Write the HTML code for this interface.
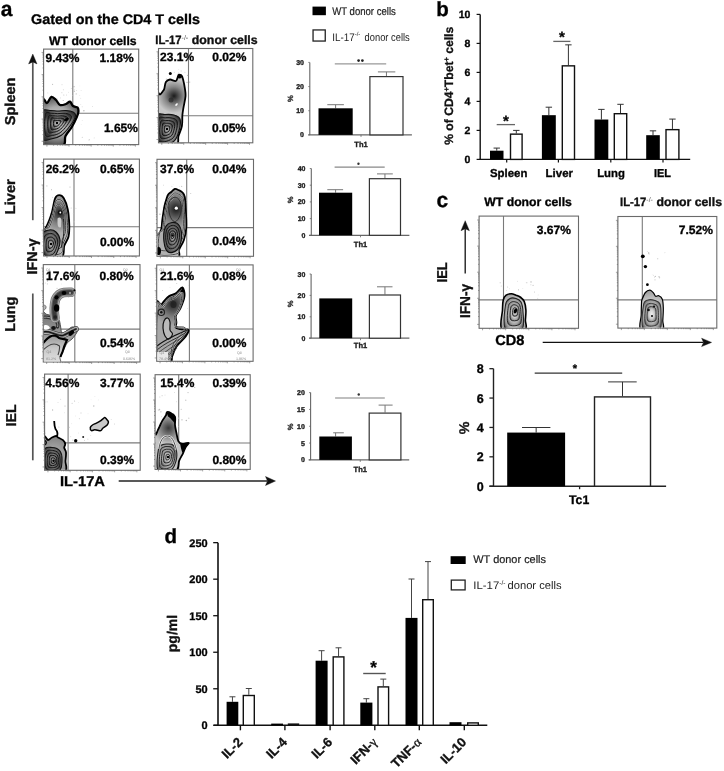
<!DOCTYPE html>
<html><head><meta charset="utf-8"><style>
html,body{margin:0;padding:0;background:#fff;}
svg{display:block;filter:blur(0.35px);}
text{font-family:"Liberation Sans", sans-serif;text-rendering:geometricPrecision;}
</style></head><body>
<svg width="724" height="771" viewBox="0 0 724 771">
<defs><radialGradient id="zebraL" cx="0.5" cy="0.5" r="0.55"><stop offset="0" stop-color="#eee"/><stop offset="0.55" stop-color="#ccc"/><stop offset="0.85" stop-color="#999"/><stop offset="1" stop-color="#666"/></radialGradient>
<radialGradient id="zebra" cx="0.5" cy="0.5" r="0.55"><stop offset="0" stop-color="#d0d0d0"/><stop offset="0.5" stop-color="#a8a8a8"/><stop offset="0.8" stop-color="#666"/><stop offset="1" stop-color="#333"/></radialGradient>
<clipPath id="cb0"><rect x="44.1" y="49.6" width="94.1" height="94.5"/></clipPath>
<clipPath id="cb1"><rect x="159" y="49" width="93.3" height="93.3"/></clipPath>
<clipPath id="cb2"><rect x="44.1" y="159.6" width="94.8" height="95.9"/></clipPath>
<clipPath id="cb3"><rect x="157.5" y="159.8" width="95.5" height="96"/></clipPath>
<clipPath id="cb4"><rect x="43.8" y="265.1" width="95.7" height="96.4"/></clipPath>
<clipPath id="cb5"><rect x="157.2" y="265.4" width="95.4" height="95.4"/></clipPath>
<clipPath id="cb6"><rect x="45.1" y="374.6" width="94.6" height="95.2"/></clipPath>
<clipPath id="cb7"><rect x="155.6" y="375.2" width="94.1" height="93.7"/></clipPath>
<radialGradient id="bg0" gradientUnits="userSpaceOnUse" cx="57" cy="121" r="26"><stop offset="0" stop-color="#ddd"/><stop offset="0.55" stop-color="#aaa"/><stop offset="1" stop-color="#444"/></radialGradient>
<radialGradient id="cg0" gradientUnits="userSpaceOnUse" cx="57" cy="123" r="21.21"><stop offset="0" stop-color="#e8e8e8"/><stop offset="1" stop-color="#777"/></radialGradient>
<radialGradient id="bg1" gradientUnits="userSpaceOnUse" cx="174" cy="96" r="17"><stop offset="0" stop-color="#1a1a1a"/><stop offset="0.55" stop-color="#888"/><stop offset="1" stop-color="#c8c8c8"/></radialGradient>
<radialGradient id="cg1" gradientUnits="userSpaceOnUse" cx="167" cy="129" r="18.6"><stop offset="0" stop-color="#e8e8e8"/><stop offset="1" stop-color="#777"/></radialGradient>
<radialGradient id="bg2" gradientUnits="userSpaceOnUse" cx="60" cy="213" r="20"><stop offset="0" stop-color="#222"/><stop offset="0.55" stop-color="#808080"/><stop offset="1" stop-color="#b0b0b0"/></radialGradient>
<radialGradient id="cg2" gradientUnits="userSpaceOnUse" cx="51" cy="244" r="16.64"><stop offset="0" stop-color="#e8e8e8"/><stop offset="1" stop-color="#777"/></radialGradient>
<radialGradient id="bg3" gradientUnits="userSpaceOnUse" cx="176" cy="209" r="22"><stop offset="0" stop-color="#1a1a1a"/><stop offset="0.55" stop-color="#7a7a7a"/><stop offset="1" stop-color="#b0b0b0"/></radialGradient>
<radialGradient id="cg3" gradientUnits="userSpaceOnUse" cx="172.5" cy="235.5" r="17.1"><stop offset="0" stop-color="#e8e8e8"/><stop offset="1" stop-color="#777"/></radialGradient>
<linearGradient id="lwt" gradientUnits="userSpaceOnUse" x1="0" y1="314" x2="0" y2="363"><stop offset="0" stop-color="#777"/><stop offset="0.45" stop-color="#9a9a9a"/><stop offset="0.7" stop-color="#c8c8c8"/><stop offset="1" stop-color="#e2e2e2"/></linearGradient>
<radialGradient id="bg4" gradientUnits="userSpaceOnUse" cx="173" cy="304" r="22"><stop offset="0" stop-color="#222"/><stop offset="0.55" stop-color="#7a7a7a"/><stop offset="1" stop-color="#a8a8a8"/></radialGradient>
<radialGradient id="bg5" gradientUnits="userSpaceOnUse" cx="54" cy="458" r="24.19"><stop offset="0" stop-color="#bbb"/><stop offset="0.55" stop-color="#9a9a9a"/><stop offset="1" stop-color="#7a7a7a"/></radialGradient>
<radialGradient id="cg5" gradientUnits="userSpaceOnUse" cx="53.5" cy="460.7" r="14.31"><stop offset="0" stop-color="#e8e8e8"/><stop offset="1" stop-color="#777"/></radialGradient>
<radialGradient id="bg6" gradientUnits="userSpaceOnUse" cx="168.5" cy="428" r="16"><stop offset="0" stop-color="#3a3a3a"/><stop offset="0.55" stop-color="#8a8a8a"/><stop offset="1" stop-color="#c4c4c4"/></radialGradient>
<radialGradient id="cg6" gradientUnits="userSpaceOnUse" cx="168" cy="457" r="16.4"><stop offset="0" stop-color="#e8e8e8"/><stop offset="1" stop-color="#777"/></radialGradient>
<clipPath id="cc0"><rect x="479.6" y="216.6" width="98.4" height="111.2"/></clipPath>
<clipPath id="cc1"><rect x="618.4" y="217" width="97.9" height="110.6"/></clipPath>
<radialGradient id="bg7" gradientUnits="userSpaceOnUse" cx="514.5" cy="312" r="21.74"><stop offset="0" stop-color="#eee"/><stop offset="0.55" stop-color="#ccc"/><stop offset="1" stop-color="#888"/></radialGradient>
<radialGradient id="cg7" gradientUnits="userSpaceOnUse" cx="515.4" cy="311" r="20.54"><stop offset="0" stop-color="#e8e8e8"/><stop offset="1" stop-color="#777"/></radialGradient>
<radialGradient id="bg8" gradientUnits="userSpaceOnUse" cx="651" cy="312" r="21.82"><stop offset="0" stop-color="#ddd"/><stop offset="0.55" stop-color="#c8c8c8"/><stop offset="1" stop-color="#999"/></radialGradient>
<radialGradient id="cg8" gradientUnits="userSpaceOnUse" cx="651.5" cy="313" r="17.89"><stop offset="0" stop-color="#e8e8e8"/><stop offset="1" stop-color="#777"/></radialGradient></defs>
<rect width="724" height="771" fill="#fff"/>
<text x="0.8" y="16.3" font-size="21" font-weight="bold" stroke="#111" stroke-width="0.35">a</text>
<text x="31" y="24.3" font-size="14" font-weight="bold" textLength="169" lengthAdjust="spacingAndGlyphs" stroke="#111" stroke-width="0.35">Gated on the CD4 T cells</text>
<text x="49" y="44.5" font-size="12.2" font-weight="bold" textLength="87.6" lengthAdjust="spacingAndGlyphs" stroke="#111" stroke-width="0.35">WT donor cells</text>
<text x="155.3" y="44.4" font-size="12.2" font-weight="bold" fill="#111" stroke="#111" stroke-width="0.35"><tspan textLength="26.3" lengthAdjust="spacingAndGlyphs">IL-17</tspan><tspan font-size="7" dy="-4.2" font-weight="normal" fill="#555" stroke-width="0">-/-</tspan><tspan dy="4.2" x="191.8" textLength="65.8" lengthAdjust="spacingAndGlyphs">donor cells</tspan></text>
<line x1="72.8" y1="49.1" x2="72.8" y2="144.6" stroke="#7a7a7a" stroke-width="1.1"/>
<line x1="43.6" y1="113.2" x2="138.7" y2="113.2" stroke="#7a7a7a" stroke-width="1.1"/>
<rect x="43.6" y="49.1" width="95.1" height="95.5" fill="none" stroke="#6a6a6a" stroke-width="1.1"/>
<path d="M43.6,141.27h-2M46.92,144.6v2M43.6,134.58h-1.1M53.58,144.6v1.1M43.6,130.67h-1.1M57.47,144.6v1.1M43.6,127.9h-1.1M60.23,144.6v1.1M43.6,125.74h-1.1M62.38,144.6v1.1M43.6,123.99h-1.1M64.13,144.6v1.1M43.6,122.5h-1.1M65.61,144.6v1.1M43.6,121.21h-1.1M66.89,144.6v1.1M43.6,120.08h-1.1M68.02,144.6v1.1M43.6,119.06h-2M69.03,144.6v2M43.6,112.37h-1.1M75.69,144.6v1.1M43.6,108.46h-1.1M79.59,144.6v1.1M43.6,105.69h-1.1M82.35,144.6v1.1M43.6,103.54h-1.1M84.49,144.6v1.1M43.6,101.78h-1.1M86.24,144.6v1.1M43.6,100.29h-1.1M87.72,144.6v1.1M43.6,99h-1.1M89.01,144.6v1.1M43.6,97.87h-1.1M90.14,144.6v1.1M43.6,96.85h-2M91.15,144.6v2M43.6,90.16h-1.1M97.81,144.6v1.1M43.6,86.25h-1.1M101.7,144.6v1.1M43.6,83.48h-1.1M104.47,144.6v1.1M43.6,81.33h-1.1M106.61,144.6v1.1M43.6,79.57h-1.1M108.36,144.6v1.1M43.6,78.08h-1.1M109.84,144.6v1.1M43.6,76.79h-1.1M111.12,144.6v1.1M43.6,75.66h-1.1M112.25,144.6v1.1M43.6,74.64h-2M113.27,144.6v2M43.6,67.96h-1.1M119.92,144.6v1.1M43.6,64.04h-1.1M123.82,144.6v1.1M43.6,61.27h-1.1M126.58,144.6v1.1M43.6,59.12h-1.1M128.72,144.6v1.1M43.6,57.36h-1.1M130.48,144.6v1.1M43.6,55.87h-1.1M131.96,144.6v1.1M43.6,54.58h-1.1M133.24,144.6v1.1M43.6,53.45h-1.1M134.37,144.6v1.1M43.6,52.43h-2M135.38,144.6v2" stroke="#666" stroke-width="0.6" fill="none"/>
<line x1="188.5" y1="48.5" x2="188.5" y2="142.8" stroke="#7a7a7a" stroke-width="1.1"/>
<line x1="158.5" y1="115.8" x2="252.8" y2="115.8" stroke="#7a7a7a" stroke-width="1.1"/>
<rect x="158.5" y="48.5" width="94.3" height="94.3" fill="none" stroke="#6a6a6a" stroke-width="1.1"/>
<path d="M158.5,139.51h-2M161.79,142.8v2M158.5,132.91h-1.1M168.39,142.8v1.1M158.5,129.05h-1.1M172.25,142.8v1.1M158.5,126.31h-1.1M174.99,142.8v1.1M158.5,124.18h-1.1M177.12,142.8v1.1M158.5,122.45h-1.1M178.85,142.8v1.1M158.5,120.98h-1.1M180.32,142.8v1.1M158.5,119.71h-1.1M181.59,142.8v1.1M158.5,118.58h-1.1M182.72,142.8v1.1M158.5,117.58h-2M183.72,142.8v2M158.5,110.98h-1.1M190.32,142.8v1.1M158.5,107.12h-1.1M194.18,142.8v1.1M158.5,104.38h-1.1M196.92,142.8v1.1M158.5,102.25h-1.1M199.05,142.8v1.1M158.5,100.52h-1.1M200.78,142.8v1.1M158.5,99.05h-1.1M202.25,142.8v1.1M158.5,97.78h-1.1M203.52,142.8v1.1M158.5,96.65h-1.1M204.65,142.8v1.1M158.5,95.65h-2M205.65,142.8v2M158.5,89.05h-1.1M212.25,142.8v1.1M158.5,85.19h-1.1M216.11,142.8v1.1M158.5,82.45h-1.1M218.85,142.8v1.1M158.5,80.32h-1.1M220.98,142.8v1.1M158.5,78.58h-1.1M222.72,142.8v1.1M158.5,77.12h-1.1M224.18,142.8v1.1M158.5,75.85h-1.1M225.45,142.8v1.1M158.5,74.72h-1.1M226.58,142.8v1.1M158.5,73.72h-2M227.58,142.8v2M158.5,67.12h-1.1M234.18,142.8v1.1M158.5,63.26h-1.1M238.04,142.8v1.1M158.5,60.52h-1.1M240.78,142.8v1.1M158.5,58.39h-1.1M242.91,142.8v1.1M158.5,56.65h-1.1M244.65,142.8v1.1M158.5,55.19h-1.1M246.11,142.8v1.1M158.5,53.91h-1.1M247.39,142.8v1.1M158.5,52.79h-1.1M248.51,142.8v1.1M158.5,51.79h-2M249.51,142.8v2" stroke="#666" stroke-width="0.6" fill="none"/>
<line x1="74" y1="159.1" x2="74" y2="256" stroke="#7a7a7a" stroke-width="1.1"/>
<line x1="43.6" y1="226.7" x2="139.4" y2="226.7" stroke="#7a7a7a" stroke-width="1.1"/>
<rect x="43.6" y="159.1" width="95.8" height="96.9" fill="none" stroke="#6a6a6a" stroke-width="1.1"/>
<path d="M43.6,252.62h-2M46.94,256v2M43.6,245.84h-1.1M53.65,256v1.1M43.6,241.87h-1.1M57.57,256v1.1M43.6,239.05h-1.1M60.36,256v1.1M43.6,236.87h-1.1M62.51,256v1.1M43.6,235.08h-1.1M64.28,256v1.1M43.6,233.58h-1.1M65.77,256v1.1M43.6,232.27h-1.1M67.06,256v1.1M43.6,231.12h-1.1M68.2,256v1.1M43.6,230.08h-2M69.22,256v2M43.6,223.3h-1.1M75.93,256v1.1M43.6,219.33h-1.1M79.85,256v1.1M43.6,216.52h-1.1M82.63,256v1.1M43.6,214.33h-1.1M84.79,256v1.1M43.6,212.55h-1.1M86.56,256v1.1M43.6,211.04h-1.1M88.05,256v1.1M43.6,209.73h-1.1M89.34,256v1.1M43.6,208.58h-1.1M90.48,256v1.1M43.6,207.55h-2M91.5,256v2M43.6,200.77h-1.1M98.21,256v1.1M43.6,196.8h-1.1M102.13,256v1.1M43.6,193.98h-1.1M104.91,256v1.1M43.6,191.8h-1.1M107.07,256v1.1M43.6,190.01h-1.1M108.84,256v1.1M43.6,188.51h-1.1M110.33,256v1.1M43.6,187.2h-1.1M111.62,256v1.1M43.6,186.05h-1.1M112.76,256v1.1M43.6,185.02h-2M113.78,256v2M43.6,178.23h-1.1M120.49,256v1.1M43.6,174.26h-1.1M124.41,256v1.1M43.6,171.45h-1.1M127.19,256v1.1M43.6,169.26h-1.1M129.35,256v1.1M43.6,167.48h-1.1M131.12,256v1.1M43.6,165.97h-1.1M132.61,256v1.1M43.6,164.66h-1.1M133.9,256v1.1M43.6,163.51h-1.1M135.04,256v1.1M43.6,162.48h-2M136.06,256v2" stroke="#666" stroke-width="0.6" fill="none"/>
<line x1="186.7" y1="159.3" x2="186.7" y2="256.3" stroke="#7a7a7a" stroke-width="1.1"/>
<line x1="157" y1="227.6" x2="253.5" y2="227.6" stroke="#7a7a7a" stroke-width="1.1"/>
<rect x="157" y="159.3" width="96.5" height="97" fill="none" stroke="#6a6a6a" stroke-width="1.1"/>
<path d="M157,252.92h-2M160.37,256.3v2M157,246.13h-1.1M167.12,256.3v1.1M157,242.15h-1.1M171.07,256.3v1.1M157,239.33h-1.1M173.88,256.3v1.1M157,237.15h-1.1M176.05,256.3v1.1M157,235.36h-1.1M177.83,256.3v1.1M157,233.85h-1.1M179.33,256.3v1.1M157,232.54h-1.1M180.63,256.3v1.1M157,231.39h-1.1M181.78,256.3v1.1M157,230.36h-2M182.81,256.3v2M157,223.57h-1.1M189.56,256.3v1.1M157,219.6h-1.1M193.52,256.3v1.1M157,216.78h-1.1M196.32,256.3v1.1M157,214.59h-1.1M198.49,256.3v1.1M157,212.8h-1.1M200.27,256.3v1.1M157,211.29h-1.1M201.77,256.3v1.1M157,209.99h-1.1M203.08,256.3v1.1M157,208.83h-1.1M204.22,256.3v1.1M157,207.8h-2M205.25,256.3v2M157,201.01h-1.1M212.01,256.3v1.1M157,197.04h-1.1M215.96,256.3v1.1M157,194.22h-1.1M218.76,256.3v1.1M157,192.03h-1.1M220.94,256.3v1.1M157,190.25h-1.1M222.71,256.3v1.1M157,188.74h-1.1M224.22,256.3v1.1M157,187.43h-1.1M225.52,256.3v1.1M157,186.27h-1.1M226.66,256.3v1.1M157,185.24h-2M227.69,256.3v2M157,178.45h-1.1M234.45,256.3v1.1M157,174.48h-1.1M238.4,256.3v1.1M157,171.66h-1.1M241.2,256.3v1.1M157,169.47h-1.1M243.38,256.3v1.1M157,167.69h-1.1M245.16,256.3v1.1M157,166.18h-1.1M246.66,256.3v1.1M157,164.87h-1.1M247.96,256.3v1.1M157,163.72h-1.1M249.11,256.3v1.1M157,162.68h-2M250.13,256.3v2" stroke="#666" stroke-width="0.6" fill="none"/>
<line x1="74.8" y1="264.6" x2="74.8" y2="362" stroke="#7a7a7a" stroke-width="1.1"/>
<line x1="43.3" y1="329.1" x2="140" y2="329.1" stroke="#7a7a7a" stroke-width="1.1"/>
<rect x="43.3" y="264.6" width="96.7" height="97.4" fill="none" stroke="#6a6a6a" stroke-width="1.1"/>
<path d="M43.3,358.6h-2M46.67,362v2M43.3,351.78h-1.1M53.44,362v1.1M43.3,347.79h-1.1M57.4,362v1.1M43.3,344.96h-1.1M60.21,362v1.1M43.3,342.77h-1.1M62.39,362v1.1M43.3,340.98h-1.1M64.17,362v1.1M43.3,339.46h-1.1M65.68,362v1.1M43.3,338.15h-1.1M66.98,362v1.1M43.3,336.99h-1.1M68.13,362v1.1M43.3,335.95h-2M69.16,362v2M43.3,329.13h-1.1M75.93,362v1.1M43.3,325.14h-1.1M79.89,362v1.1M43.3,322.31h-1.1M82.7,362v1.1M43.3,320.12h-1.1M84.88,362v1.1M43.3,318.33h-1.1M86.66,362v1.1M43.3,316.81h-1.1M88.17,362v1.1M43.3,315.5h-1.1M89.47,362v1.1M43.3,314.34h-1.1M90.62,362v1.1M43.3,313.3h-2M91.65,362v2M43.3,306.48h-1.1M98.42,362v1.1M43.3,302.49h-1.1M102.38,362v1.1M43.3,299.66h-1.1M105.19,362v1.1M43.3,297.47h-1.1M107.37,362v1.1M43.3,295.67h-1.1M109.15,362v1.1M43.3,294.16h-1.1M110.65,362v1.1M43.3,292.84h-1.1M111.96,362v1.1M43.3,291.69h-1.1M113.11,362v1.1M43.3,290.65h-2M114.14,362v2M43.3,283.83h-1.1M120.91,362v1.1M43.3,279.84h-1.1M124.87,362v1.1M43.3,277.01h-1.1M127.68,362v1.1M43.3,274.82h-1.1M129.86,362v1.1M43.3,273.02h-1.1M131.64,362v1.1M43.3,271.51h-1.1M133.14,362v1.1M43.3,270.19h-1.1M134.45,362v1.1M43.3,269.03h-1.1M135.6,362v1.1M43.3,268h-2M136.63,362v2" stroke="#666" stroke-width="0.6" fill="none"/>
<line x1="189.4" y1="264.9" x2="189.4" y2="361.3" stroke="#7a7a7a" stroke-width="1.1"/>
<line x1="156.7" y1="329" x2="253.1" y2="329" stroke="#7a7a7a" stroke-width="1.1"/>
<rect x="156.7" y="264.9" width="96.4" height="96.4" fill="none" stroke="#6a6a6a" stroke-width="1.1"/>
<path d="M156.7,357.94h-2M160.06,361.3v2M156.7,351.19h-1.1M166.81,361.3v1.1M156.7,347.24h-1.1M170.76,361.3v1.1M156.7,344.44h-1.1M173.56,361.3v1.1M156.7,342.27h-1.1M175.73,361.3v1.1M156.7,340.49h-1.1M177.51,361.3v1.1M156.7,338.99h-1.1M179.01,361.3v1.1M156.7,337.69h-1.1M180.31,361.3v1.1M156.7,336.54h-1.1M181.46,361.3v1.1M156.7,335.52h-2M182.48,361.3v2M156.7,328.77h-1.1M189.23,361.3v1.1M156.7,324.82h-1.1M193.18,361.3v1.1M156.7,322.02h-1.1M195.98,361.3v1.1M156.7,319.85h-1.1M198.15,361.3v1.1M156.7,318.07h-1.1M199.93,361.3v1.1M156.7,316.57h-1.1M201.43,361.3v1.1M156.7,315.27h-1.1M202.73,361.3v1.1M156.7,314.13h-1.1M203.87,361.3v1.1M156.7,313.1h-2M204.9,361.3v2M156.7,306.35h-1.1M211.65,361.3v1.1M156.7,302.4h-1.1M215.6,361.3v1.1M156.7,299.6h-1.1M218.4,361.3v1.1M156.7,297.43h-1.1M220.57,361.3v1.1M156.7,295.65h-1.1M222.35,361.3v1.1M156.7,294.15h-1.1M223.85,361.3v1.1M156.7,292.85h-1.1M225.15,361.3v1.1M156.7,291.71h-1.1M226.29,361.3v1.1M156.7,290.68h-2M227.32,361.3v2M156.7,283.93h-1.1M234.07,361.3v1.1M156.7,279.99h-1.1M238.01,361.3v1.1M156.7,277.18h-1.1M240.82,361.3v1.1M156.7,275.01h-1.1M242.99,361.3v1.1M156.7,273.24h-1.1M244.76,361.3v1.1M156.7,271.74h-1.1M246.26,361.3v1.1M156.7,270.44h-1.1M247.56,361.3v1.1M156.7,269.29h-1.1M248.71,361.3v1.1M156.7,268.26h-2M249.74,361.3v2" stroke="#666" stroke-width="0.6" fill="none"/>
<line x1="68.1" y1="374.1" x2="68.1" y2="470.3" stroke="#7a7a7a" stroke-width="1.1"/>
<line x1="44.6" y1="442.9" x2="140.2" y2="442.9" stroke="#7a7a7a" stroke-width="1.1"/>
<rect x="44.6" y="374.1" width="95.6" height="96.2" fill="none" stroke="#6a6a6a" stroke-width="1.1"/>
<path d="M44.6,466.94h-2M47.93,470.3v2M44.6,460.21h-1.1M54.63,470.3v1.1M44.6,456.27h-1.1M58.54,470.3v1.1M44.6,453.47h-1.1M61.32,470.3v1.1M44.6,451.31h-1.1M63.47,470.3v1.1M44.6,449.54h-1.1M65.24,470.3v1.1M44.6,448.04h-1.1M66.72,470.3v1.1M44.6,446.74h-1.1M68.01,470.3v1.1M44.6,445.6h-1.1M69.15,470.3v1.1M44.6,444.57h-2M70.17,470.3v2M44.6,437.84h-1.1M76.86,470.3v1.1M44.6,433.9h-1.1M80.78,470.3v1.1M44.6,431.1h-1.1M83.55,470.3v1.1M44.6,428.93h-1.1M85.71,470.3v1.1M44.6,427.16h-1.1M87.47,470.3v1.1M44.6,425.67h-1.1M88.96,470.3v1.1M44.6,424.37h-1.1M90.25,470.3v1.1M44.6,423.22h-1.1M91.38,470.3v1.1M44.6,422.2h-2M92.4,470.3v2M44.6,415.47h-1.1M99.09,470.3v1.1M44.6,411.53h-1.1M103.01,470.3v1.1M44.6,408.73h-1.1M105.79,470.3v1.1M44.6,406.56h-1.1M107.94,470.3v1.1M44.6,404.79h-1.1M109.7,470.3v1.1M44.6,403.29h-1.1M111.19,470.3v1.1M44.6,402h-1.1M112.48,470.3v1.1M44.6,400.85h-1.1M113.62,470.3v1.1M44.6,399.83h-2M114.63,470.3v2M44.6,393.09h-1.1M121.33,470.3v1.1M44.6,389.15h-1.1M125.24,470.3v1.1M44.6,386.36h-1.1M128.02,470.3v1.1M44.6,384.19h-1.1M130.17,470.3v1.1M44.6,382.42h-1.1M131.93,470.3v1.1M44.6,380.92h-1.1M133.42,470.3v1.1M44.6,379.62h-1.1M134.71,470.3v1.1M44.6,378.48h-1.1M135.85,470.3v1.1M44.6,377.46h-2M136.87,470.3v2" stroke="#666" stroke-width="0.6" fill="none"/>
<line x1="178.7" y1="374.7" x2="178.7" y2="469.4" stroke="#7a7a7a" stroke-width="1.1"/>
<line x1="155.1" y1="443" x2="250.2" y2="443" stroke="#7a7a7a" stroke-width="1.1"/>
<rect x="155.1" y="374.7" width="95.1" height="94.7" fill="none" stroke="#6a6a6a" stroke-width="1.1"/>
<path d="M155.1,466.1h-2M158.42,469.4v2M155.1,459.47h-1.1M165.08,469.4v1.1M155.1,455.59h-1.1M168.97,469.4v1.1M155.1,452.84h-1.1M171.73,469.4v1.1M155.1,450.7h-1.1M173.88,469.4v1.1M155.1,448.96h-1.1M175.63,469.4v1.1M155.1,447.48h-1.1M177.11,469.4v1.1M155.1,446.21h-1.1M178.39,469.4v1.1M155.1,445.08h-1.1M179.52,469.4v1.1M155.1,444.07h-2M180.53,469.4v2M155.1,437.44h-1.1M187.19,469.4v1.1M155.1,433.57h-1.1M191.09,469.4v1.1M155.1,430.81h-1.1M193.85,469.4v1.1M155.1,428.68h-1.1M195.99,469.4v1.1M155.1,426.94h-1.1M197.74,469.4v1.1M155.1,425.46h-1.1M199.22,469.4v1.1M155.1,424.18h-1.1M200.51,469.4v1.1M155.1,423.06h-1.1M201.64,469.4v1.1M155.1,422.05h-2M202.65,469.4v2M155.1,415.42h-1.1M209.31,469.4v1.1M155.1,411.54h-1.1M213.2,469.4v1.1M155.1,408.79h-1.1M215.97,469.4v1.1M155.1,406.66h-1.1M218.11,469.4v1.1M155.1,404.91h-1.1M219.86,469.4v1.1M155.1,403.44h-1.1M221.34,469.4v1.1M155.1,402.16h-1.1M222.62,469.4v1.1M155.1,401.03h-1.1M223.75,469.4v1.1M155.1,400.03h-2M224.77,469.4v2M155.1,393.4h-1.1M231.42,469.4v1.1M155.1,389.52h-1.1M235.32,469.4v1.1M155.1,386.77h-1.1M238.08,469.4v1.1M155.1,384.63h-1.1M240.22,469.4v1.1M155.1,382.89h-1.1M241.98,469.4v1.1M155.1,381.41h-1.1M243.46,469.4v1.1M155.1,380.14h-1.1M244.74,469.4v1.1M155.1,379.01h-1.1M245.87,469.4v1.1M155.1,378h-2M246.88,469.4v2" stroke="#666" stroke-width="0.6" fill="none"/>
<g clip-path="url(#cb0)"><circle cx="49.11" cy="107.73" r="0.37" fill="rgb(218,218,218)"/><circle cx="48.48" cy="105.31" r="0.58" fill="rgb(200,200,200)"/><circle cx="73.97" cy="86.63" r="0.66" fill="rgb(171,171,171)"/><circle cx="58.81" cy="101.01" r="0.35" fill="rgb(219,219,219)"/><circle cx="60.92" cy="104.2" r="0.56" fill="rgb(184,184,184)"/><circle cx="47.88" cy="92.89" r="0.36" fill="rgb(171,171,171)"/><circle cx="64.57" cy="110.3" r="0.59" fill="rgb(194,194,194)"/><circle cx="80.82" cy="104.32" r="0.43" fill="rgb(203,203,203)"/><circle cx="60.64" cy="97.88" r="0.47" fill="rgb(184,184,184)"/><circle cx="69.72" cy="105.31" r="0.67" fill="rgb(188,188,188)"/><circle cx="59.81" cy="109.66" r="0.39" fill="rgb(211,211,211)"/><circle cx="67.92" cy="104.26" r="0.39" fill="rgb(188,188,188)"/><circle cx="56.64" cy="104.2" r="0.53" fill="rgb(215,215,215)"/><circle cx="80.75" cy="98.22" r="0.42" fill="rgb(212,212,212)"/><circle cx="54.8" cy="111.26" r="0.65" fill="rgb(201,201,201)"/><circle cx="63.2" cy="100.49" r="0.52" fill="rgb(172,172,172)"/><circle cx="72.26" cy="95.32" r="0.41" fill="rgb(212,212,212)"/><circle cx="64.85" cy="103.69" r="0.61" fill="rgb(213,213,213)"/><circle cx="47.29" cy="102.59" r="0.62" fill="rgb(176,176,176)"/><circle cx="63.8" cy="95.01" r="0.61" fill="rgb(201,201,201)"/><circle cx="61.83" cy="92.64" r="0.69" fill="rgb(224,224,224)"/><circle cx="66.54" cy="95.02" r="0.41" fill="rgb(180,180,180)"/><circle cx="52.62" cy="84.34" r="0.54" fill="rgb(182,182,182)"/><circle cx="76.69" cy="90.5" r="0.47" fill="rgb(202,202,202)"/><circle cx="76.2" cy="93.89" r="0.58" fill="rgb(187,187,187)"/><circle cx="67.14" cy="104.42" r="0.62" fill="rgb(194,194,194)"/><circle cx="75.18" cy="108.81" r="0.53" fill="rgb(217,217,217)"/><circle cx="48.91" cy="105.77" r="0.5" fill="rgb(183,183,183)"/><circle cx="46.13" cy="108.36" r="0.54" fill="rgb(206,206,206)"/><circle cx="79.76" cy="95.58" r="0.47" fill="rgb(222,222,222)"/><circle cx="57.15" cy="99.08" r="0.63" fill="rgb(209,209,209)"/><circle cx="56.58" cy="100.8" r="0.43" fill="rgb(221,221,221)"/><circle cx="50.73" cy="100.36" r="0.38" fill="rgb(225,225,225)"/><circle cx="64.94" cy="107.84" r="0.36" fill="rgb(186,186,186)"/><circle cx="79.86" cy="85.97" r="0.36" fill="rgb(225,225,225)"/><circle cx="44.55" cy="105.16" r="0.44" fill="rgb(185,185,185)"/><circle cx="74.3" cy="89.17" r="0.37" fill="rgb(188,188,188)"/><circle cx="50.07" cy="98.77" r="0.58" fill="rgb(180,180,180)"/><circle cx="68.63" cy="92.25" r="0.46" fill="rgb(214,214,214)"/><circle cx="62" cy="84.66" r="0.47" fill="rgb(194,194,194)"/><circle cx="74.26" cy="91.24" r="0.66" fill="rgb(186,186,186)"/><circle cx="63.38" cy="89.85" r="0.5" fill="rgb(208,208,208)"/><circle cx="81.07" cy="90.31" r="0.4" fill="rgb(195,195,195)"/><circle cx="71.32" cy="88.49" r="0.53" fill="rgb(215,215,215)"/><circle cx="60.21" cy="107.3" r="0.63" fill="rgb(210,210,210)"/></g>
<g clip-path="url(#cb0)"><circle cx="94.12" cy="137.91" r="0.38" fill="rgb(173,173,173)"/><circle cx="82.22" cy="106.76" r="0.58" fill="rgb(221,221,221)"/><circle cx="81.16" cy="124.24" r="0.36" fill="rgb(208,208,208)"/><circle cx="88.62" cy="139.99" r="0.49" fill="rgb(210,210,210)"/><circle cx="89.46" cy="139.79" r="0.54" fill="rgb(193,193,193)"/><circle cx="83.9" cy="110.73" r="0.65" fill="rgb(172,172,172)"/><circle cx="82.28" cy="137.27" r="0.5" fill="rgb(194,194,194)"/><circle cx="92.68" cy="106.58" r="0.43" fill="rgb(181,181,181)"/><circle cx="75.48" cy="113.01" r="0.53" fill="rgb(178,178,178)"/><circle cx="82.19" cy="120.55" r="0.41" fill="rgb(205,205,205)"/></g>
<g clip-path="url(#cb1)"><circle cx="166.38" cy="79.06" r="0.67" fill="rgb(193,193,193)"/><circle cx="173.7" cy="79.94" r="0.35" fill="rgb(208,208,208)"/><circle cx="184.96" cy="72.22" r="0.42" fill="rgb(184,184,184)"/><circle cx="181.23" cy="78.98" r="0.52" fill="rgb(205,205,205)"/><circle cx="178.81" cy="69.61" r="0.4" fill="rgb(210,210,210)"/><circle cx="187.7" cy="75.36" r="0.58" fill="rgb(170,170,170)"/><circle cx="160.98" cy="84.2" r="0.36" fill="rgb(207,207,207)"/><circle cx="183.18" cy="85.77" r="0.52" fill="rgb(187,187,187)"/><circle cx="181.28" cy="87.09" r="0.63" fill="rgb(215,215,215)"/><circle cx="172.23" cy="83.48" r="0.51" fill="rgb(206,206,206)"/><circle cx="188" cy="87.09" r="0.36" fill="rgb(176,176,176)"/><circle cx="174.34" cy="72.19" r="0.5" fill="rgb(213,213,213)"/><circle cx="178.43" cy="73.22" r="0.64" fill="rgb(202,202,202)"/><circle cx="176.79" cy="78.82" r="0.55" fill="rgb(196,196,196)"/><circle cx="187.03" cy="82.37" r="0.65" fill="rgb(171,171,171)"/><circle cx="189.72" cy="82.11" r="0.59" fill="rgb(180,180,180)"/><circle cx="169.12" cy="79" r="0.55" fill="rgb(206,206,206)"/><circle cx="181.13" cy="71.07" r="0.7" fill="rgb(223,223,223)"/></g>
<g clip-path="url(#cb2)"><circle cx="51.55" cy="189.64" r="0.52" fill="rgb(195,195,195)"/><circle cx="46.88" cy="185.89" r="0.67" fill="rgb(205,205,205)"/><circle cx="69.61" cy="219.43" r="0.53" fill="rgb(184,184,184)"/><circle cx="55.53" cy="220.09" r="0.39" fill="rgb(222,222,222)"/><circle cx="50.86" cy="226.74" r="0.57" fill="rgb(223,223,223)"/><circle cx="52.33" cy="197.23" r="0.46" fill="rgb(180,180,180)"/><circle cx="64.06" cy="217.94" r="0.65" fill="rgb(224,224,224)"/><circle cx="55.92" cy="223.02" r="0.59" fill="rgb(191,191,191)"/><circle cx="60.19" cy="193" r="0.45" fill="rgb(200,200,200)"/><circle cx="74.23" cy="221.8" r="0.64" fill="rgb(205,205,205)"/><circle cx="44.23" cy="198.14" r="0.66" fill="rgb(215,215,215)"/><circle cx="71.14" cy="207.88" r="0.5" fill="rgb(196,196,196)"/><circle cx="53.22" cy="205.31" r="0.46" fill="rgb(184,184,184)"/><circle cx="70" cy="186.95" r="0.51" fill="rgb(172,172,172)"/><circle cx="75.92" cy="208.35" r="0.51" fill="rgb(211,211,211)"/><circle cx="54.97" cy="229.88" r="0.37" fill="rgb(182,182,182)"/><circle cx="73.23" cy="213.58" r="0.45" fill="rgb(198,198,198)"/><circle cx="55.39" cy="218.61" r="0.57" fill="rgb(190,190,190)"/><circle cx="50.36" cy="199.56" r="0.37" fill="rgb(223,223,223)"/><circle cx="51.32" cy="219.43" r="0.65" fill="rgb(209,209,209)"/></g>
<g clip-path="url(#cb3)"><circle cx="179.18" cy="205.96" r="0.59" fill="rgb(220,220,220)"/><circle cx="186.61" cy="202.82" r="0.36" fill="rgb(203,203,203)"/><circle cx="173.83" cy="213.02" r="0.37" fill="rgb(211,211,211)"/><circle cx="163.33" cy="193.01" r="0.44" fill="rgb(225,225,225)"/><circle cx="176.49" cy="200.09" r="0.61" fill="rgb(170,170,170)"/><circle cx="171.88" cy="186.37" r="0.62" fill="rgb(225,225,225)"/><circle cx="163.43" cy="207.9" r="0.57" fill="rgb(178,178,178)"/><circle cx="173.12" cy="184.63" r="0.35" fill="rgb(225,225,225)"/><circle cx="184.3" cy="213.6" r="0.66" fill="rgb(180,180,180)"/><circle cx="167.84" cy="213.65" r="0.66" fill="rgb(204,204,204)"/><circle cx="179.27" cy="186.36" r="0.42" fill="rgb(214,214,214)"/><circle cx="190.81" cy="193.41" r="0.48" fill="rgb(171,171,171)"/><circle cx="163.64" cy="185.1" r="0.47" fill="rgb(174,174,174)"/><circle cx="185.79" cy="200.51" r="0.59" fill="rgb(208,208,208)"/><circle cx="169.49" cy="190.85" r="0.46" fill="rgb(222,222,222)"/><circle cx="181.68" cy="186.47" r="0.6" fill="rgb(200,200,200)"/><circle cx="159.94" cy="214.13" r="0.68" fill="rgb(171,171,171)"/><circle cx="170.16" cy="194.15" r="0.63" fill="rgb(205,205,205)"/><circle cx="170.45" cy="200.25" r="0.51" fill="rgb(170,170,170)"/><circle cx="182.06" cy="201.83" r="0.39" fill="rgb(182,182,182)"/><circle cx="166.37" cy="208.68" r="0.47" fill="rgb(199,199,199)"/><circle cx="170.06" cy="198.36" r="0.51" fill="rgb(219,219,219)"/></g>
<g clip-path="url(#cb4)"><circle cx="72.56" cy="296.44" r="0.62" fill="rgb(201,201,201)"/><circle cx="45.33" cy="282.91" r="0.51" fill="rgb(207,207,207)"/><circle cx="71.35" cy="287.46" r="0.36" fill="rgb(219,219,219)"/><circle cx="61.6" cy="283.96" r="0.49" fill="rgb(225,225,225)"/><circle cx="63.38" cy="293.64" r="0.55" fill="rgb(182,182,182)"/><circle cx="69.18" cy="294.58" r="0.63" fill="rgb(212,212,212)"/><circle cx="68.68" cy="296.89" r="0.7" fill="rgb(191,191,191)"/><circle cx="57.04" cy="288.2" r="0.51" fill="rgb(186,186,186)"/><circle cx="47.38" cy="283.94" r="0.63" fill="rgb(210,210,210)"/><circle cx="47.51" cy="280.91" r="0.64" fill="rgb(182,182,182)"/></g>
<g clip-path="url(#cb5)"><circle cx="169.98" cy="287.73" r="0.37" fill="rgb(211,211,211)"/><circle cx="188.39" cy="285.58" r="0.37" fill="rgb(207,207,207)"/><circle cx="176.78" cy="283.42" r="0.5" fill="rgb(197,197,197)"/><circle cx="166.9" cy="302.94" r="0.64" fill="rgb(173,173,173)"/><circle cx="162.58" cy="290.48" r="0.55" fill="rgb(210,210,210)"/><circle cx="160.29" cy="304.25" r="0.69" fill="rgb(173,173,173)"/><circle cx="159.72" cy="314.62" r="0.5" fill="rgb(188,188,188)"/><circle cx="178.01" cy="303.69" r="0.64" fill="rgb(205,205,205)"/><circle cx="164.69" cy="304.1" r="0.42" fill="rgb(210,210,210)"/><circle cx="161.6" cy="309.06" r="0.37" fill="rgb(206,206,206)"/><circle cx="165.62" cy="307.86" r="0.62" fill="rgb(197,197,197)"/><circle cx="175.23" cy="317.09" r="0.45" fill="rgb(193,193,193)"/><circle cx="187.39" cy="308.56" r="0.38" fill="rgb(185,185,185)"/><circle cx="169.11" cy="300.81" r="0.61" fill="rgb(191,191,191)"/></g>
<g clip-path="url(#cb6)"><circle cx="60.1" cy="443.11" r="0.42" fill="rgb(178,178,178)"/><circle cx="47.11" cy="401.84" r="0.7" fill="rgb(221,221,221)"/><circle cx="58.87" cy="427.09" r="0.52" fill="rgb(199,199,199)"/><circle cx="71.72" cy="423.66" r="0.49" fill="rgb(223,223,223)"/><circle cx="78.44" cy="432.95" r="0.44" fill="rgb(214,214,214)"/><circle cx="72.94" cy="440.1" r="0.6" fill="rgb(194,194,194)"/><circle cx="91.07" cy="399.86" r="0.37" fill="rgb(222,222,222)"/><circle cx="88.03" cy="413.86" r="0.37" fill="rgb(212,212,212)"/><circle cx="60.64" cy="399.3" r="0.53" fill="rgb(211,211,211)"/><circle cx="58.76" cy="435.42" r="0.37" fill="rgb(208,208,208)"/><circle cx="111.17" cy="419.43" r="0.4" fill="rgb(182,182,182)"/><circle cx="105.08" cy="417.81" r="0.66" fill="rgb(207,207,207)"/><circle cx="64.28" cy="412.83" r="0.4" fill="rgb(197,197,197)"/><circle cx="98.26" cy="399.88" r="0.46" fill="rgb(214,214,214)"/><circle cx="69.35" cy="427.2" r="0.53" fill="rgb(201,201,201)"/><circle cx="58.03" cy="402.51" r="0.45" fill="rgb(203,203,203)"/><circle cx="90.65" cy="435.41" r="0.53" fill="rgb(224,224,224)"/><circle cx="93.79" cy="406" r="0.67" fill="rgb(185,185,185)"/><circle cx="65" cy="405.99" r="0.5" fill="rgb(172,172,172)"/><circle cx="70.76" cy="436.72" r="0.41" fill="rgb(196,196,196)"/><circle cx="72.13" cy="403.31" r="0.65" fill="rgb(212,212,212)"/><circle cx="45.82" cy="443.65" r="0.46" fill="rgb(180,180,180)"/><circle cx="44.94" cy="433.21" r="0.64" fill="rgb(191,191,191)"/><circle cx="84.41" cy="440.26" r="0.49" fill="rgb(178,178,178)"/><circle cx="75.67" cy="415.9" r="0.37" fill="rgb(207,207,207)"/><circle cx="94.9" cy="396.7" r="0.39" fill="rgb(212,212,212)"/><circle cx="80.99" cy="413.01" r="0.68" fill="rgb(221,221,221)"/><circle cx="78.66" cy="402.43" r="0.37" fill="rgb(208,208,208)"/><circle cx="45.2" cy="402.02" r="0.58" fill="rgb(194,194,194)"/><circle cx="52.57" cy="409.97" r="0.69" fill="rgb(190,190,190)"/><circle cx="44.21" cy="436.78" r="0.37" fill="rgb(183,183,183)"/><circle cx="87.83" cy="439.15" r="0.62" fill="rgb(225,225,225)"/><circle cx="114.32" cy="424" r="0.47" fill="rgb(181,181,181)"/><circle cx="74.6" cy="401.05" r="0.56" fill="rgb(182,182,182)"/><circle cx="79.3" cy="418.66" r="0.48" fill="rgb(179,179,179)"/></g>
<g clip-path="url(#cb7)"><circle cx="176.37" cy="401.8" r="0.42" fill="rgb(178,178,178)"/><circle cx="185.77" cy="400.22" r="0.66" fill="rgb(199,199,199)"/><circle cx="159.56" cy="409.94" r="0.6" fill="rgb(209,209,209)"/><circle cx="188.04" cy="392.62" r="0.68" fill="rgb(198,198,198)"/><circle cx="174.59" cy="392.58" r="0.39" fill="rgb(173,173,173)"/><circle cx="178.28" cy="426.57" r="0.37" fill="rgb(207,207,207)"/><circle cx="186.29" cy="420.53" r="0.67" fill="rgb(176,176,176)"/><circle cx="165.02" cy="395.09" r="0.5" fill="rgb(220,220,220)"/><circle cx="159.86" cy="397" r="0.49" fill="rgb(183,183,183)"/><circle cx="171.03" cy="386.94" r="0.66" fill="rgb(215,215,215)"/><circle cx="194.69" cy="387.47" r="0.65" fill="rgb(194,194,194)"/><circle cx="162.12" cy="395.65" r="0.67" fill="rgb(217,217,217)"/><circle cx="160.93" cy="411.86" r="0.62" fill="rgb(177,177,177)"/><circle cx="164.7" cy="423.35" r="0.35" fill="rgb(191,191,191)"/><circle cx="159.67" cy="409.29" r="0.53" fill="rgb(171,171,171)"/><circle cx="181.21" cy="409.19" r="0.5" fill="rgb(182,182,182)"/><circle cx="173.52" cy="413.74" r="0.6" fill="rgb(175,175,175)"/><circle cx="162.4" cy="427.29" r="0.69" fill="rgb(216,216,216)"/><circle cx="158.38" cy="409.98" r="0.65" fill="rgb(208,208,208)"/><circle cx="188.79" cy="418.16" r="0.7" fill="rgb(206,206,206)"/><circle cx="161.34" cy="416.75" r="0.41" fill="rgb(185,185,185)"/><circle cx="178.22" cy="418.12" r="0.59" fill="rgb(224,224,224)"/><circle cx="181.97" cy="419.86" r="0.65" fill="rgb(175,175,175)"/><circle cx="160.84" cy="424.68" r="0.51" fill="rgb(193,193,193)"/><circle cx="173.7" cy="429.37" r="0.61" fill="rgb(206,206,206)"/></g>
<g clip-path="url(#cb0)">
<path d="M40,99 C40.67,91.25 42.83,98.83 44,99.5 C45.17,100.17 45.77,103.43 47,103 C48.23,102.57 49.9,97.4 51.4,96.9 C52.9,96.4 54.57,98.65 56,100 C57.43,101.35 58.33,104.33 60,105 C61.67,105.67 64.33,104.57 66,104 C67.67,103.43 68.83,101.27 70,101.6 C71.17,101.93 71.73,105 73,106 C74.27,107 76.7,106.6 77.6,107.6 C78.5,108.6 78.53,110.43 78.4,112 C78.27,113.57 77.9,114.5 76.8,117 C75.7,119.5 73.68,123.83 71.8,127 C69.92,130.17 67.05,132.83 65.5,136 C63.95,139.17 66.75,144.33 62.5,146 C58.25,147.67 43.75,153.83 40,146 C36.25,138.17 39.33,106.75 40,99Z" fill="url(#bg0)" stroke="#000" stroke-width="2.3"/>
<path d="M42,112 C43.33,107.42 47.33,110.67 50,110.5 C52.67,110.33 55.33,111 58,111 C60.67,111 63.5,110.33 66,110.5 C68.5,110.67 71.42,111.08 73,112 C74.58,112.92 76,113.67 75.5,116 C75,118.33 72.42,122.75 70,126 C67.58,129.25 64.17,133.33 61,135.5 C57.83,137.67 54.17,138.58 51,139 C47.83,139.42 43.5,142.5 42,138 C40.5,133.5 40.67,116.58 42,112Z" fill="url(#zebra)" stroke="#111" stroke-width="1.1"/>
<path d="M45.3,114.42 C46.34,110.84 49.46,113.38 51.54,113.25 C53.62,113.12 55.7,113.64 57.78,113.64 C59.86,113.64 62.07,113.12 64.02,113.25 C65.97,113.38 68.25,113.7 69.48,114.42 C70.72,115.14 71.82,115.72 71.43,117.54 C71.04,119.36 69.03,122.81 67.14,125.34 C65.25,127.88 62.59,131.06 60.12,132.75 C57.65,134.44 54.79,135.16 52.32,135.48 C49.85,135.8 46.47,138.21 45.3,134.7 C44.13,131.19 44.26,118 45.3,114.42Z" fill="url(#zebra)" stroke="#111" stroke-width="0.95"/>
<path d="M48.3,116.62 C49.07,113.96 51.39,115.85 52.94,115.75 C54.49,115.65 56.03,116.04 57.58,116.04 C59.13,116.04 60.77,115.65 62.22,115.75 C63.67,115.85 65.36,116.09 66.28,116.62 C67.2,117.15 68.02,117.59 67.73,118.94 C67.44,120.29 65.94,122.85 64.54,124.74 C63.14,126.62 61.16,128.99 59.32,130.25 C57.48,131.51 55.36,132.04 53.52,132.28 C51.68,132.52 49.17,134.31 48.3,131.7 C47.43,129.09 47.53,119.28 48.3,116.62Z" fill="url(#zebra)" stroke="#111" stroke-width="0.95"/>
<path d="M51,118.6 C51.53,116.77 53.13,118.07 54.2,118 C55.27,117.93 56.33,118.2 57.4,118.2 C58.47,118.2 59.6,117.93 60.6,118 C61.6,118.07 62.77,118.23 63.4,118.6 C64.03,118.97 64.6,119.27 64.4,120.2 C64.2,121.13 63.17,122.9 62.2,124.2 C61.23,125.5 59.87,127.13 58.6,128 C57.33,128.87 55.87,129.23 54.6,129.4 C53.33,129.57 51.6,130.8 51,129 C50.4,127.2 50.47,120.43 51,118.6Z" fill="url(#zebra)" stroke="#111" stroke-width="0.95"/>
<path d="M53.7,120.58 C53.99,119.57 54.87,120.29 55.46,120.25 C56.05,120.21 56.63,120.36 57.22,120.36 C57.81,120.36 58.43,120.21 58.98,120.25 C59.53,120.29 60.17,120.38 60.52,120.58 C60.87,120.78 61.18,120.95 61.07,121.46 C60.96,121.97 60.39,122.94 59.86,123.66 C59.33,124.38 58.58,125.27 57.88,125.75 C57.18,126.23 56.38,126.43 55.68,126.52 C54.98,126.61 54.03,127.29 53.7,126.3 C53.37,125.31 53.41,121.59 53.7,120.58Z" fill="url(#zebra)" stroke="#111" stroke-width="0.95"/>
<circle cx="57" cy="123" r="1.2" fill="#000"/>
<ellipse cx="66.5" cy="119.5" rx="2.6" ry="1.3" transform="rotate(-30 66.5 119.5)" fill="#000"/>
</g>
<g clip-path="url(#cb1)">
<path d="M156,95 C156.67,86.58 158.83,95.17 160,94.5 C161.17,93.83 162.28,91.97 163,91 C163.72,90.03 163.82,90.2 164.3,88.7 C164.78,87.2 164.95,83.53 165.9,82 C166.85,80.47 168.35,79.67 170,79.5 C171.65,79.33 174.43,81.5 175.8,81 C177.17,80.5 177.25,77.42 178.2,76.5 C179.15,75.58 180.67,74.92 181.5,75.5 C182.33,76.08 182.63,77.8 183.2,80 C183.77,82.2 184.52,85.97 184.9,88.7 C185.28,91.43 185.73,93.28 185.5,96.4 C185.27,99.52 184.02,104.3 183.5,107.4 C182.98,110.5 182.67,111.9 182.4,115 C182.13,118.1 182.55,122.5 181.9,126 C181.25,129.5 179.48,132.83 178.5,136 C177.52,139.17 179.75,143.5 176,145 C172.25,146.5 159.33,153.33 156,145 C152.67,136.67 155.33,103.42 156,95Z" fill="url(#bg1)" stroke="#000" stroke-width="1.8"/>
<path d="M156,116.5 C157.5,111.58 162,114.75 165,114.5 C168,114.25 171.5,114.25 174,115 C176.5,115.75 179.17,116.33 180,119 C180.83,121.67 180.17,127.17 179,131 C177.83,134.83 176.83,139.83 173,142 C169.17,144.17 158.83,148.25 156,144 C153.17,139.75 154.5,121.42 156,116.5Z" fill="url(#zebra)" stroke="#111" stroke-width="1.1"/>
<path d="M158.42,119.25 C159.59,115.42 163.1,117.88 165.44,117.69 C167.78,117.5 170.51,117.5 172.46,118.08 C174.41,118.66 176.49,119.12 177.14,121.2 C177.79,123.28 177.27,127.57 176.36,130.56 C175.45,133.55 174.67,137.45 171.68,139.14 C168.69,140.83 160.63,144.01 158.42,140.7 C156.21,137.38 157.25,123.08 158.42,119.25Z" fill="url(#zebra)" stroke="#111" stroke-width="0.95"/>
<path d="M160.62,121.75 C161.49,118.9 164.1,120.73 165.84,120.59 C167.58,120.45 169.61,120.44 171.06,120.88 C172.51,121.31 174.06,121.65 174.54,123.2 C175.02,124.75 174.64,127.94 173.96,130.16 C173.28,132.38 172.7,135.28 170.48,136.54 C168.26,137.8 162.26,140.16 160.62,137.7 C158.98,135.23 159.75,124.6 160.62,121.75Z" fill="url(#zebra)" stroke="#111" stroke-width="0.95"/>
<path d="M162.6,124 C163.2,122.03 165,123.3 166.2,123.2 C167.4,123.1 168.8,123.1 169.8,123.4 C170.8,123.7 171.87,123.93 172.2,125 C172.53,126.07 172.27,128.27 171.8,129.8 C171.33,131.33 170.93,133.33 169.4,134.2 C167.87,135.07 163.73,136.7 162.6,135 C161.47,133.3 162,125.97 162.6,124Z" fill="url(#zebra)" stroke="#111" stroke-width="0.95"/>
<path d="M164.58,126.25 C164.91,125.17 165.9,125.87 166.56,125.81 C167.22,125.75 167.99,125.75 168.54,125.92 C169.09,126.09 169.68,126.21 169.86,126.8 C170.04,127.39 169.9,128.6 169.64,129.44 C169.38,130.28 169.16,131.38 168.32,131.86 C167.48,132.34 165.2,133.24 164.58,132.3 C163.96,131.37 164.25,127.33 164.58,126.25Z" fill="url(#zebra)" stroke="#111" stroke-width="0.95"/>
<circle cx="167" cy="129" r="1.2" fill="#000"/>
<circle cx="170.3" cy="73.4" r="1.5" fill="#000"/><circle cx="179.6" cy="76.2" r="2.4" fill="#000"/><ellipse cx="176.5" cy="104.6" rx="1.6" ry="0.9" transform="rotate(-50 176.5 104.6)" fill="#fff"/><circle cx="171" cy="100" r="2.5" fill="#222" opacity="0.6"/>
</g>
<g clip-path="url(#cb2)">
<path d="M40,233 C40.83,228.17 43.48,231.08 45,229 C46.52,226.92 47.92,223.43 49.1,220.5 C50.28,217.57 51.08,215.12 52.1,211.4 C53.12,207.68 54.02,200.9 55.2,198.2 C56.38,195.5 57.77,195.2 59.2,195.2 C60.63,195.2 62.37,195.83 63.8,198.2 C65.23,200.57 66.88,204.83 67.8,209.4 C68.72,213.97 69.18,221.05 69.3,225.6 C69.42,230.15 69.33,233.33 68.5,236.7 C67.67,240.07 65.52,242.25 64.3,245.8 C63.08,249.35 65.25,255.97 61.2,258 C57.15,260.03 43.53,262.17 40,258 C36.47,253.83 39.17,237.83 40,233Z" fill="url(#bg2)" stroke="#000" stroke-width="1.8"/>
<path d="M42.38,232.02 C43.1,227.86 45.38,230.37 46.68,228.58 C47.98,226.79 49.19,223.79 50.21,221.27 C51.22,218.75 51.91,216.64 52.79,213.44 C53.66,210.25 54.43,204.41 55.45,202.09 C56.47,199.77 57.66,199.51 58.89,199.51 C60.12,199.51 61.62,200.06 62.85,202.09 C64.08,204.13 65.5,207.8 66.29,211.72 C67.08,215.65 67.48,221.74 67.58,225.66 C67.68,229.57 67.61,232.31 66.89,235.2 C66.17,238.1 64.32,239.98 63.28,243.03 C62.23,246.08 64.09,251.77 60.61,253.52 C57.13,255.27 45.42,257.1 42.38,253.52 C39.34,249.94 41.66,236.18 42.38,232.02Z" fill="none" stroke="#eee" stroke-width="1.3" opacity="0.8"/>
<path d="M42.38,232.02 C43.1,227.86 45.38,230.37 46.68,228.58 C47.98,226.79 49.19,223.79 50.21,221.27 C51.22,218.75 51.91,216.64 52.79,213.44 C53.66,210.25 54.43,204.41 55.45,202.09 C56.47,199.77 57.66,199.51 58.89,199.51 C60.12,199.51 61.62,200.06 62.85,202.09 C64.08,204.13 65.5,207.8 66.29,211.72 C67.08,215.65 67.48,221.74 67.58,225.66 C67.68,229.57 67.61,232.31 66.89,235.2 C66.17,238.1 64.32,239.98 63.28,243.03 C62.23,246.08 64.09,251.77 60.61,253.52 C57.13,255.27 45.42,257.1 42.38,253.52 C39.34,249.94 41.66,236.18 42.38,232.02Z" fill="none" stroke="#1a1a1a" stroke-width="0.8"/>
<path d="M45.1,230.9 C45.68,227.52 47.54,229.56 48.6,228.1 C49.66,226.64 50.64,224.2 51.47,222.15 C52.3,220.1 52.86,218.38 53.57,215.78 C54.28,213.18 54.91,208.43 55.74,206.54 C56.57,204.65 57.54,204.44 58.54,204.44 C59.54,204.44 60.76,204.88 61.76,206.54 C62.76,208.2 63.92,211.18 64.56,214.38 C65.2,217.58 65.53,222.53 65.61,225.72 C65.69,228.91 65.63,231.13 65.05,233.49 C64.47,235.85 62.96,237.38 62.11,239.86 C61.26,242.35 62.78,246.98 59.94,248.4 C57.11,249.82 47.57,251.32 45.1,248.4 C42.63,245.48 44.52,234.28 45.1,230.9Z" fill="none" stroke="#eee" stroke-width="1.3" opacity="0.8"/>
<path d="M45.1,230.9 C45.68,227.52 47.54,229.56 48.6,228.1 C49.66,226.64 50.64,224.2 51.47,222.15 C52.3,220.1 52.86,218.38 53.57,215.78 C54.28,213.18 54.91,208.43 55.74,206.54 C56.57,204.65 57.54,204.44 58.54,204.44 C59.54,204.44 60.76,204.88 61.76,206.54 C62.76,208.2 63.92,211.18 64.56,214.38 C65.2,217.58 65.53,222.53 65.61,225.72 C65.69,228.91 65.63,231.13 65.05,233.49 C64.47,235.85 62.96,237.38 62.11,239.86 C61.26,242.35 62.78,246.98 59.94,248.4 C57.11,249.82 47.57,251.32 45.1,248.4 C42.63,245.48 44.52,234.28 45.1,230.9Z" fill="none" stroke="#1a1a1a" stroke-width="0.8"/>
<path d="M42,235 C43.17,230.33 46.67,230.5 49,230 C51.33,229.5 54.17,230.33 56,232 C57.83,233.67 59.67,237 60,240 C60.33,243 59.17,247 58,250 C56.83,253 55.67,256.67 53,258 C50.33,259.33 43.83,261.83 42,258 C40.17,254.17 40.83,239.67 42,235Z" fill="url(#zebra)" stroke="#111" stroke-width="1.1"/>
<path d="M44.25,237.25 C45.12,233.75 47.75,233.88 49.5,233.5 C51.25,233.12 53.38,233.75 54.75,235 C56.12,236.25 57.5,238.75 57.75,241 C58,243.25 57.12,246.25 56.25,248.5 C55.38,250.75 54.5,253.5 52.5,254.5 C50.5,255.5 45.62,257.38 44.25,254.5 C42.88,251.62 43.38,240.75 44.25,237.25Z" fill="url(#zebra)" stroke="#111" stroke-width="0.95"/>
<path d="M46.5,239.5 C47.08,237.17 48.83,237.25 50,237 C51.17,236.75 52.58,237.17 53.5,238 C54.42,238.83 55.33,240.5 55.5,242 C55.67,243.5 55.08,245.5 54.5,247 C53.92,248.5 53.33,250.33 52,251 C50.67,251.67 47.42,252.92 46.5,251 C45.58,249.08 45.92,241.83 46.5,239.5Z" fill="url(#zebra)" stroke="#111" stroke-width="0.95"/>
<path d="M48.48,241.48 C48.81,240.17 49.79,240.22 50.44,240.08 C51.09,239.94 51.89,240.17 52.4,240.64 C52.91,241.11 53.43,242.04 53.52,242.88 C53.61,243.72 53.29,244.84 52.96,245.68 C52.63,246.52 52.31,247.55 51.56,247.92 C50.81,248.29 48.99,248.99 48.48,247.92 C47.97,246.85 48.15,242.79 48.48,241.48Z" fill="url(#zebra)" stroke="#111" stroke-width="0.95"/>
<circle cx="51" cy="244" r="1.2" fill="#000"/>
<circle cx="60" cy="212.5" r="2.3" fill="#111"/><circle cx="60.3" cy="212.5" r="0.9" fill="#fff"/><path d="M57.5,218.5 C59.5,216.5 61.5,217.5 61.5,221 L61,227 C59.5,228.5 57.5,227 57.5,223Z" fill="#ccc"/><path d="M63.5,219 C64.5,228 64,238 61,248" fill="none" stroke="#222" stroke-width="1"/>
</g>
<g clip-path="url(#cb3)">
<path d="M155,236 C155.4,232.2 156.37,236.28 157.4,235.2 C158.43,234.12 160.38,232.03 161.2,229.5 C162.02,226.97 161.75,223.92 162.3,220 C162.85,216.08 163.78,209.58 164.5,206 C165.22,202.42 165.98,200.42 166.6,198.5 C167.22,196.58 167.43,195.58 168.2,194.5 C168.97,193.42 170.1,192.92 171.2,192 C172.3,191.08 173.5,189.28 174.8,189 C176.1,188.72 177.72,189.72 179,190.3 C180.28,190.88 181.53,191.38 182.5,192.5 C183.47,193.62 184.25,194.15 184.8,197 C185.35,199.85 185.55,204.48 185.8,209.6 C186.05,214.72 186.62,222.63 186.3,227.7 C185.98,232.77 185.08,236.37 183.9,240 C182.72,243.63 180.27,246.5 179.2,249.5 C178.13,252.5 181.53,256.58 177.5,258 C173.47,259.42 158.75,261.67 155,258 C151.25,254.33 154.6,239.8 155,236Z" fill="url(#bg3)" stroke="#000" stroke-width="1.8"/>
<path d="M157.28,234.32 C157.63,230.98 158.48,234.57 159.39,233.62 C160.3,232.66 162.02,230.83 162.74,228.6 C163.45,226.37 163.22,223.69 163.7,220.24 C164.19,216.79 165.01,211.07 165.64,207.92 C166.27,204.77 166.95,203.01 167.49,201.32 C168.03,199.63 168.22,198.75 168.9,197.8 C169.57,196.85 170.57,196.41 171.54,195.6 C172.5,194.79 173.56,193.21 174.7,192.96 C175.85,192.71 177.27,193.59 178.4,194.1 C179.53,194.62 180.63,195.06 181.48,196.04 C182.33,197.02 183.02,197.49 183.5,200 C183.99,202.51 184.16,206.59 184.38,211.09 C184.6,215.59 185.1,222.56 184.82,227.02 C184.55,231.47 183.75,234.64 182.71,237.84 C181.67,241.04 179.51,243.56 178.58,246.2 C177.64,248.84 180.63,252.43 177.08,253.68 C173.53,254.93 160.58,256.91 157.28,253.68 C153.98,250.45 156.93,237.66 157.28,234.32Z" fill="none" stroke="#eee" stroke-width="1.3" opacity="0.8"/>
<path d="M157.28,234.32 C157.63,230.98 158.48,234.57 159.39,233.62 C160.3,232.66 162.02,230.83 162.74,228.6 C163.45,226.37 163.22,223.69 163.7,220.24 C164.19,216.79 165.01,211.07 165.64,207.92 C166.27,204.77 166.95,203.01 167.49,201.32 C168.03,199.63 168.22,198.75 168.9,197.8 C169.57,196.85 170.57,196.41 171.54,195.6 C172.5,194.79 173.56,193.21 174.7,192.96 C175.85,192.71 177.27,193.59 178.4,194.1 C179.53,194.62 180.63,195.06 181.48,196.04 C182.33,197.02 183.02,197.49 183.5,200 C183.99,202.51 184.16,206.59 184.38,211.09 C184.6,215.59 185.1,222.56 184.82,227.02 C184.55,231.47 183.75,234.64 182.71,237.84 C181.67,241.04 179.51,243.56 178.58,246.2 C177.64,248.84 180.63,252.43 177.08,253.68 C173.53,254.93 160.58,256.91 157.28,253.68 C153.98,250.45 156.93,237.66 157.28,234.32Z" fill="none" stroke="#1a1a1a" stroke-width="0.8"/>
<path d="M159.56,232.64 C159.86,229.75 160.6,232.86 161.38,232.03 C162.17,231.21 163.65,229.63 164.27,227.7 C164.89,225.77 164.69,223.46 165.11,220.48 C165.53,217.5 166.24,212.56 166.78,209.84 C167.32,207.12 167.91,205.6 168.38,204.14 C168.84,202.68 169.01,201.92 169.59,201.1 C170.17,200.28 171.04,199.9 171.87,199.2 C172.71,198.5 173.62,197.14 174.61,196.92 C175.6,196.7 176.82,197.46 177.8,197.91 C178.78,198.35 179.73,198.73 180.46,199.58 C181.19,200.43 181.79,200.83 182.21,203 C182.63,205.17 182.78,208.69 182.97,212.58 C183.16,216.46 183.59,222.48 183.35,226.33 C183.11,230.18 182.42,232.92 181.52,235.68 C180.62,238.44 178.76,240.62 177.95,242.9 C177.14,245.18 179.73,248.28 176.66,249.36 C173.59,250.44 162.41,252.15 159.56,249.36 C156.71,246.57 159.26,235.53 159.56,232.64Z" fill="none" stroke="#eee" stroke-width="1.3" opacity="0.8"/>
<path d="M159.56,232.64 C159.86,229.75 160.6,232.86 161.38,232.03 C162.17,231.21 163.65,229.63 164.27,227.7 C164.89,225.77 164.69,223.46 165.11,220.48 C165.53,217.5 166.24,212.56 166.78,209.84 C167.32,207.12 167.91,205.6 168.38,204.14 C168.84,202.68 169.01,201.92 169.59,201.1 C170.17,200.28 171.04,199.9 171.87,199.2 C172.71,198.5 173.62,197.14 174.61,196.92 C175.6,196.7 176.82,197.46 177.8,197.91 C178.78,198.35 179.73,198.73 180.46,199.58 C181.19,200.43 181.79,200.83 182.21,203 C182.63,205.17 182.78,208.69 182.97,212.58 C183.16,216.46 183.59,222.48 183.35,226.33 C183.11,230.18 182.42,232.92 181.52,235.68 C180.62,238.44 178.76,240.62 177.95,242.9 C177.14,245.18 179.73,248.28 176.66,249.36 C173.59,250.44 162.41,252.15 159.56,249.36 C156.71,246.57 159.26,235.53 159.56,232.64Z" fill="none" stroke="#1a1a1a" stroke-width="0.8"/>
<path d="M165,228 C166.33,224.75 169.58,222.83 172,222.5 C174.42,222.17 177.92,223.42 179.5,226 C181.08,228.58 181.92,234 181.5,238 C181.08,242 179.25,247.67 177,250 C174.75,252.33 170.17,253.33 168,252 C165.83,250.67 164.5,246 164,242 C163.5,238 163.67,231.25 165,228Z" fill="url(#zebra)" stroke="#111" stroke-width="1.1"/>
<path d="M166.65,229.65 C167.69,227.12 170.23,225.62 172.11,225.36 C174,225.1 176.73,226.08 177.96,228.09 C179.19,230.1 179.85,234.33 179.52,237.45 C179.19,240.57 177.76,244.99 176.01,246.81 C174.25,248.63 170.68,249.41 168.99,248.37 C167.3,247.33 166.26,243.69 165.87,240.57 C165.48,237.45 165.61,232.19 166.65,229.65Z" fill="url(#zebra)" stroke="#111" stroke-width="0.95"/>
<path d="M168.3,231.3 C169.05,229.48 170.87,228.41 172.22,228.22 C173.57,228.03 175.53,228.73 176.42,230.18 C177.31,231.63 177.77,234.66 177.54,236.9 C177.31,239.14 176.28,242.31 175.02,243.62 C173.76,244.93 171.19,245.49 169.98,244.74 C168.77,243.99 168.02,241.38 167.74,239.14 C167.46,236.9 167.55,233.12 168.3,231.3Z" fill="url(#zebra)" stroke="#111" stroke-width="0.95"/>
<path d="M169.8,232.8 C170.28,231.63 171.45,230.94 172.32,230.82 C173.19,230.7 174.45,231.15 175.02,232.08 C175.59,233.01 175.89,234.96 175.74,236.4 C175.59,237.84 174.93,239.88 174.12,240.72 C173.31,241.56 171.66,241.92 170.88,241.44 C170.1,240.96 169.62,239.28 169.44,237.84 C169.26,236.4 169.32,233.97 169.8,232.8Z" fill="url(#zebra)" stroke="#111" stroke-width="0.95"/>
<path d="M171.15,234.15 C171.39,233.56 171.97,233.22 172.41,233.16 C172.84,233.1 173.47,233.32 173.76,233.79 C174.04,234.25 174.19,235.23 174.12,235.95 C174.05,236.67 173.72,237.69 173.31,238.11 C172.91,238.53 172.08,238.71 171.69,238.47 C171.3,238.23 171.06,237.39 170.97,236.67 C170.88,235.95 170.91,234.74 171.15,234.15Z" fill="url(#zebra)" stroke="#111" stroke-width="0.95"/>
<circle cx="172.5" cy="235.5" r="1.2" fill="#000"/>
<path d="M169,202 C172,195 180,196 181,205 C182,213 179,220 175,222 C170,220 168,212 169,202Z" fill="none" stroke="#222" stroke-width="0.8"/><circle cx="176.3" cy="208.2" r="1.6" fill="#fff"/><ellipse cx="158.5" cy="251" rx="2.5" ry="4" fill="#000"/>
</g>
<g clip-path="url(#cb4)">
<path d="M40,314 C41.17,305.92 44.67,314.08 47,314.5 C49.33,314.92 52,315.58 54,316.5 C56,317.42 57.92,318.42 59,320 C60.08,321.58 60,323.83 60.5,326 C61,328.17 60.92,332.25 62,333 C63.08,333.75 65.33,331.5 67,330.5 C68.67,329.5 70.25,327.33 72,327 C73.75,326.67 76.75,327.5 77.5,328.5 C78.25,329.5 77.42,331.25 76.5,333 C75.58,334.75 73.5,337.42 72,339 C70.5,340.58 68.67,341.17 67.5,342.5 C66.33,343.83 65.83,345.42 65,347 C64.17,348.58 63.33,350.33 62.5,352 C61.67,353.67 60.58,355.17 60,357 C59.42,358.83 62.33,362 59,363 C55.67,364 43.17,371.17 40,363 C36.83,354.83 38.83,322.08 40,314Z" fill="url(#lwt)" stroke="#444" stroke-width="0.9"/>
<path d="M40,318 C44,316.5 49,317 54,319 C57,321 58.5,324 57.5,327" fill="none" stroke="#333" stroke-width="3.2" stroke-linecap="round"/>
<path d="M40,318 C44,316.5 49,317 54,319 C57,321 58.5,324 57.5,327" fill="none" stroke="#999" stroke-width="1"/>
<path d="M40,333 C44,331 48,331.5 52,333 C56,334.5 60,336 63,335.5 C67,334 71,331 76,329" fill="none" stroke="#444" stroke-width="6" stroke-linecap="round"/>
<path d="M40,333 C44,331 48,331.5 52,333 C56,334.5 60,336 63,335.5 C67,334 71,331 76,329" fill="none" stroke="#bbb" stroke-width="4.4" stroke-linecap="round"/>
<path d="M40,333 C44,331 48,331.5 52,333 C56,334.5 60,336 63,335.5 C67,334 71,331 76,329" fill="none" stroke="#666" stroke-width="2.6" stroke-linecap="round"/>
<path d="M40,333 C44,331 48,331.5 52,333 C56,334.5 60,336 63,335.5 C67,334 71,331 76,329" fill="none" stroke="#111" stroke-width="1.2" stroke-linecap="round"/>
<path d="M40,347 C43,343 46,339 49.5,337 C53,335 57,335.5 59,338 C61.5,339 64,338.8 67,340 C65,344 63.5,348 62.5,352 C61.5,354 61,355.5 60.5,357" fill="none" stroke="#000" stroke-width="2.1"/>
<path d="M41,352 C44,349 47,346 51,344.5 C54.5,343.5 57,344 59.5,346 C60,349 59,352 58,355" fill="none" stroke="#444" stroke-width="1.1"/>
<path d="M44,325.5 C46.5,324.5 49,325.5 50,328 C48,330 45,330 43.5,329Z" fill="#fff"/>
<ellipse cx="53.5" cy="328" rx="2.4" ry="2" fill="#111"/>
<ellipse cx="71.3" cy="333" rx="2" ry="3.4" transform="rotate(40 71.3 333)" fill="#000"/>
<path d="M55,318 C54,312 54,305 55.5,299.5 C57.5,295 60.5,293 64,292.5 C67,292.2 69,292.3 71,292.3" fill="none" stroke="#777" stroke-width="9.6" stroke-linecap="round"/>
<path d="M55,318 C54,312 54,305 55.5,299.5 C57.5,295 60.5,293 64,292.5 C67,292.2 69,292.3 71,292.3" fill="none" stroke="#aaa" stroke-width="8.2" stroke-linecap="round"/>
<path d="M55,318 C54,312 54,305 55.5,299.5 C57.5,295 60.5,293 64,292.5 C67,292.2 69,292.3 71,292.3" fill="none" stroke="#666" stroke-width="6.2" stroke-linecap="round"/>
<path d="M55,318 C54,312 54,305 55.5,299.5 C57.5,295 60.5,293 64,292.5 C67,292.2 69,292.3 71,292.3" fill="none" stroke="#3a3a3a" stroke-width="4" stroke-linecap="round"/>
<circle cx="56.5" cy="297.3" r="2.1" fill="#000"/><ellipse cx="64" cy="293" rx="2.4" ry="2" fill="#000"/><ellipse cx="56.6" cy="308" rx="2.7" ry="3.8" fill="#000"/><circle cx="74.4" cy="290.3" r="1.1" fill="#000"/><circle cx="55.2" cy="317" r="1.8" fill="#222"/><circle cx="70" cy="293" r="1.2" fill="#999"/>
<path d="M43,305.5 C45,304.5 46.5,306 46,308 C45,310 43.5,310.5 43,310Z" fill="#bbb" stroke="#555" stroke-width="0.7"/>
</g>
<text x="46.5" y="353" font-size="3.6" fill="#888">Q4</text>
<text x="46" y="359.5" font-size="3.6" fill="#888">81.2%</text>
<text x="46" y="270.5" font-size="3.6" fill="#888">Q1</text>
<text x="123" y="270.5" font-size="3.6" fill="#888">Q2</text>
<text x="125" y="353" font-size="3.6" fill="#888">Q3</text>
<text x="123" y="359.5" font-size="3.6" fill="#888">0.636%</text>
<g clip-path="url(#cb5)">
<path d="M155,305 C156.02,295.28 159.58,305.33 161.1,304.7 C162.62,304.07 162.75,302.63 164.1,301.2 C165.45,299.77 167.17,297.45 169.2,296.1 C171.23,294.75 174.12,294.53 176.3,293.1 C178.48,291.67 180.95,287 182.3,287.5 C183.65,288 184.73,292.63 184.4,296.1 C184.07,299.57 181.73,305.08 180.3,308.3 C178.87,311.52 176.47,313.03 175.8,315.4 C175.13,317.77 176.3,320.48 176.3,322.5 C176.3,324.52 175.13,326.42 175.8,327.5 C176.47,328.58 178.2,328.58 180.3,329 C182.4,329.42 187.55,328.73 188.4,330 C189.25,331.27 187.42,333.8 185.4,336.6 C183.38,339.4 178.5,343.57 176.3,346.8 C174.1,350.03 173.25,353.3 172.2,356 C171.15,358.7 172.87,361.83 170,363 C167.13,364.17 157.5,372.67 155,363 C152.5,353.33 153.98,314.72 155,305Z" fill="url(#bg4)" stroke="#000" stroke-width="2"/>
<path d="M156.5,306.3 C157.41,297.56 160.62,306.6 161.99,306.03 C163.36,305.46 163.47,304.17 164.69,302.88 C165.91,301.59 167.45,299.5 169.28,298.29 C171.11,297.08 173.71,296.88 175.67,295.59 C177.64,294.3 179.86,290.1 181.07,290.55 C182.29,291 183.26,295.17 182.96,298.29 C182.66,301.41 180.56,306.38 179.27,309.27 C177.98,312.16 175.82,313.53 175.22,315.66 C174.62,317.79 175.67,320.24 175.67,322.05 C175.67,323.87 174.62,325.58 175.22,326.55 C175.82,327.52 177.38,327.52 179.27,327.9 C181.16,328.27 185.8,327.66 186.56,328.8 C187.32,329.94 185.68,332.22 183.86,334.74 C182.05,337.26 177.65,341.01 175.67,343.92 C173.69,346.83 172.92,349.77 171.98,352.2 C171.03,354.63 172.58,357.45 170,358.5 C167.42,359.55 158.75,367.2 156.5,358.5 C154.25,349.8 155.59,315.05 156.5,306.3Z" fill="none" stroke="#eee" stroke-width="1.3" opacity="0.8"/>
<path d="M156.5,306.3 C157.41,297.56 160.62,306.6 161.99,306.03 C163.36,305.46 163.47,304.17 164.69,302.88 C165.91,301.59 167.45,299.5 169.28,298.29 C171.11,297.08 173.71,296.88 175.67,295.59 C177.64,294.3 179.86,290.1 181.07,290.55 C182.29,291 183.26,295.17 182.96,298.29 C182.66,301.41 180.56,306.38 179.27,309.27 C177.98,312.16 175.82,313.53 175.22,315.66 C174.62,317.79 175.67,320.24 175.67,322.05 C175.67,323.87 174.62,325.58 175.22,326.55 C175.82,327.52 177.38,327.52 179.27,327.9 C181.16,328.27 185.8,327.66 186.56,328.8 C187.32,329.94 185.68,332.22 183.86,334.74 C182.05,337.26 177.65,341.01 175.67,343.92 C173.69,346.83 172.92,349.77 171.98,352.2 C171.03,354.63 172.58,357.45 170,358.5 C167.42,359.55 158.75,367.2 156.5,358.5 C154.25,349.8 155.59,315.05 156.5,306.3Z" fill="none" stroke="#1a1a1a" stroke-width="0.8"/>
<path d="M158,307.6 C158.81,299.83 161.67,307.87 162.88,307.36 C164.09,306.85 164.2,305.71 165.28,304.56 C166.36,303.41 167.73,301.56 169.36,300.48 C170.99,299.4 173.29,299.23 175.04,298.08 C176.79,296.93 178.76,293.2 179.84,293.6 C180.92,294 181.79,297.71 181.52,300.48 C181.25,303.25 179.39,307.67 178.24,310.24 C177.09,312.81 175.17,314.03 174.64,315.92 C174.11,317.81 175.04,319.99 175.04,321.6 C175.04,323.21 174.11,324.73 174.64,325.6 C175.17,326.47 176.56,326.47 178.24,326.8 C179.92,327.13 184.04,326.59 184.72,327.6 C185.4,328.61 183.93,330.64 182.32,332.88 C180.71,335.12 176.8,338.45 175.04,341.04 C173.28,343.63 172.6,346.24 171.76,348.4 C170.92,350.56 172.29,353.07 170,354 C167.71,354.93 160,361.73 158,354 C156,346.27 157.19,315.37 158,307.6Z" fill="none" stroke="#eee" stroke-width="1.3" opacity="0.8"/>
<path d="M158,307.6 C158.81,299.83 161.67,307.87 162.88,307.36 C164.09,306.85 164.2,305.71 165.28,304.56 C166.36,303.41 167.73,301.56 169.36,300.48 C170.99,299.4 173.29,299.23 175.04,298.08 C176.79,296.93 178.76,293.2 179.84,293.6 C180.92,294 181.79,297.71 181.52,300.48 C181.25,303.25 179.39,307.67 178.24,310.24 C177.09,312.81 175.17,314.03 174.64,315.92 C174.11,317.81 175.04,319.99 175.04,321.6 C175.04,323.21 174.11,324.73 174.64,325.6 C175.17,326.47 176.56,326.47 178.24,326.8 C179.92,327.13 184.04,326.59 184.72,327.6 C185.4,328.61 183.93,330.64 182.32,332.88 C180.71,335.12 176.8,338.45 175.04,341.04 C173.28,343.63 172.6,346.24 171.76,348.4 C170.92,350.56 172.29,353.07 170,354 C167.71,354.93 160,361.73 158,354 C156,346.27 157.19,315.37 158,307.6Z" fill="none" stroke="#1a1a1a" stroke-width="0.8"/>
<path d="M164,321 C164.75,319.33 166.5,317.83 167.5,318 C168.5,318.17 169.58,320 170,322 C170.42,324 169.58,328 170,330 C170.42,332 172.67,332.5 172.5,334 C172.33,335.5 170.25,338.67 169,339 C167.75,339.33 166,337.83 165,336 C164,334.17 163.17,330.5 163,328 C162.83,325.5 163.25,322.67 164,321Z" fill="#bbb" stroke="#111" stroke-width="1.2"/><path d="M157,346 C163,341 170,338 176,335 C180,333 183,331.5 186.5,330.5" fill="none" stroke="#111" stroke-width="1.2"/><path d="M157.5,349.5 C163.5,344.5 170.5,341 176.5,338 C180.5,336 183.5,334 186.5,332" fill="none" stroke="#222" stroke-width="0.9"/><path d="M158,353 C164,348 171,344 177,340.5 C181,338.5 184,336 186,334" fill="none" stroke="#333" stroke-width="0.8"/><path d="M159,356.5 C166,351.5 172,347 178,343 C181,341 183,339 184.5,337" fill="none" stroke="#333" stroke-width="0.8"/><path d="M160,360 C167,355 173,350 178,345.5" fill="none" stroke="#444" stroke-width="0.7"/><path d="M162,363 C168,358 173,353 177,348" fill="none" stroke="#555" stroke-width="0.7"/><ellipse cx="173.5" cy="304.5" rx="3" ry="3.5" fill="#222" opacity="0.85"/><circle cx="161.3" cy="312.3" r="3.2" fill="none" stroke="#222" stroke-width="1.2"/><circle cx="161.3" cy="312.3" r="1.2" fill="#111"/><path d="M180,292 L183,287 L184.5,292Z" fill="#000"/><path d="M157,352 h11 v9 h-11z" fill="#e8e8e8"/>
</g>
<text x="159.5" y="354" font-size="3.6" fill="#888">Q4</text>
<text x="159" y="360" font-size="3.6" fill="#888">78.4%</text>
<text x="159.5" y="270.8" font-size="3.6" fill="#888">Q1</text>
<text x="236" y="270.8" font-size="3.6" fill="#888">Q2</text>
<text x="237" y="353.5" font-size="3.6" fill="#888">Q3</text>
<text x="236" y="360" font-size="3.6" fill="#888">1.96%</text>
<g clip-path="url(#cb6)">
<path d="M42,437 C42.48,431.07 43.9,435.9 44.9,436.4 C45.9,436.9 46.82,439.82 48,440 C49.18,440.18 50.67,438.17 52,437.5 C53.33,436.83 55,436.02 56,436 C57,435.98 56.83,436.7 58,437.4 C59.17,438.1 61.8,439.1 63,440.2 C64.2,441.3 65,442.75 65.2,444 C65.4,445.25 64.07,446.32 64.2,447.7 C64.33,449.08 65.78,450.08 66,452.3 C66.22,454.52 65.75,457.72 65.5,461 C65.25,464.28 68.42,470.17 64.5,472 C60.58,473.83 45.75,477.83 42,472 C38.25,466.17 41.52,442.93 42,437Z" fill="url(#bg5)" stroke="#000" stroke-width="1.8"/>
<path d="M44,450 C45.33,446.08 49.33,447.33 52,447.5 C54.67,447.67 58.33,448.75 60,451 C61.67,453.25 62.17,457.67 62,461 C61.83,464.33 62,469.33 59,471 C56,472.67 46.5,474.5 44,471 C41.5,467.5 42.67,453.92 44,450Z" fill="url(#zebra)" stroke="#111" stroke-width="1.1"/>
<path d="M46.09,452.35 C47.13,449.3 50.25,450.27 52.33,450.4 C54.41,450.53 57.27,451.38 58.57,453.13 C59.87,454.89 60.26,458.33 60.13,460.93 C60,463.53 60.13,467.43 57.79,468.73 C55.45,470.03 48.04,471.46 46.09,468.73 C44.14,466 45.05,455.41 46.09,452.35Z" fill="url(#zebra)" stroke="#111" stroke-width="0.95"/>
<path d="M47.99,454.49 C48.76,452.22 51.08,452.95 52.63,453.04 C54.18,453.14 56.3,453.77 57.27,455.07 C58.24,456.38 58.53,458.94 58.43,460.87 C58.33,462.81 58.43,465.71 56.69,466.67 C54.95,467.64 49.44,468.7 47.99,466.67 C46.54,464.64 47.22,456.77 47.99,454.49Z" fill="url(#zebra)" stroke="#111" stroke-width="0.95"/>
<path d="M49.7,456.42 C50.23,454.85 51.83,455.35 52.9,455.42 C53.97,455.49 55.43,455.92 56.1,456.82 C56.77,457.72 56.97,459.49 56.9,460.82 C56.83,462.15 56.9,464.15 55.7,464.82 C54.5,465.49 50.7,466.22 49.7,464.82 C48.7,463.42 49.17,457.99 49.7,456.42Z" fill="url(#zebra)" stroke="#111" stroke-width="0.95"/>
<path d="M51.41,458.35 C51.7,457.48 52.58,457.76 53.17,457.8 C53.76,457.83 54.56,458.07 54.93,458.57 C55.3,459.06 55.41,460.03 55.37,460.77 C55.33,461.5 55.37,462.6 54.71,462.97 C54.05,463.33 51.96,463.74 51.41,462.97 C50.86,462.2 51.12,459.21 51.41,458.35Z" fill="url(#zebra)" stroke="#111" stroke-width="0.95"/>
<circle cx="53.5" cy="460.7" r="1.2" fill="#000"/>
<path d="M56.5,437 C58.5,434 57.5,431.5 55.5,429 C54.3,426.5 54.3,424 54.2,421" fill="none" stroke="#000" stroke-width="1.8"/><path d="M44,440 C46.5,441 47,443 45,445" fill="none" stroke="#000" stroke-width="1.4"/>
</g>
<path d="M90.3,427.5 C90.47,426.57 91.55,425.7 92.5,425 C93.45,424.3 94.75,423.93 96,423.3 C97.25,422.67 98.83,421.95 100,421.2 C101.17,420.45 102.2,419.4 103,418.8 C103.8,418.2 104.2,417.52 104.8,417.6 C105.4,417.68 106,418.6 106.6,419.3 C107.2,420 108.23,420.97 108.4,421.8 C108.57,422.63 108.07,423.55 107.6,424.3 C107.13,425.05 106.4,425.63 105.6,426.3 C104.8,426.97 103.6,427.58 102.8,428.3 C102,429.02 101.68,430.28 100.8,430.6 C99.92,430.92 98.55,430.33 97.5,430.2 C96.45,430.07 95.5,429.73 94.5,429.8 C93.5,429.87 92.2,430.98 91.5,430.6 C90.8,430.22 90.13,428.43 90.3,427.5Z" fill="#c9c9c9" stroke="#000" stroke-width="1.5"/>
<circle cx="75.7" cy="440.8" r="1.7" fill="#000"/><circle cx="83.2" cy="436.9" r="1" fill="#222"/>
<g clip-path="url(#cb7)">
<path d="M154,435 C154.32,428.93 155.32,435.27 155.9,434.6 C156.48,433.93 156.97,432.18 157.5,431 C158.03,429.82 158.6,428.58 159.1,427.5 C159.6,426.42 159.95,425.65 160.5,424.5 C161.05,423.35 161.73,421.77 162.4,420.6 C163.07,419.43 163.88,418.43 164.5,417.5 C165.12,416.57 165.67,415.9 166.1,415 C166.53,414.1 166.32,412.42 167.1,412.1 C167.88,411.78 169.48,412.32 170.8,413.1 C172.12,413.88 174.3,414.78 175,416.8 C175.7,418.82 174.77,422.55 175,425.2 C175.23,427.85 175.85,430.05 176.4,432.7 C176.95,435.35 177.37,439.23 178.3,441.1 C179.23,442.97 180.28,443.58 182,443.9 C183.72,444.22 187.97,442.53 188.6,443 C189.23,443.47 186.73,444.98 185.8,446.7 C184.87,448.42 184.1,450.97 183,453.3 C181.9,455.63 180.45,457.75 179.2,460.7 C177.95,463.65 179.7,469.28 175.5,471 C171.3,472.72 157.58,477 154,471 C150.42,465 153.68,441.07 154,435Z" fill="url(#bg6)" stroke="#000" stroke-width="1.8"/>
<path d="M158.5,449 C159.33,444.75 161.42,445.33 163,444.5 C164.58,443.67 166.33,443.92 168,444 C169.67,444.08 171.58,443.83 173,445 C174.42,446.17 176,448.33 176.5,451 C177,453.67 176.92,457.83 176,461 C175.08,464.17 174,468.5 171,470 C168,471.5 160.08,473.5 158,470 C155.92,466.5 157.67,453.25 158.5,449Z" fill="url(#zebraL)" stroke="#222" stroke-width="1.1"/>
<path d="M160.4,450.6 C161.07,447.2 162.73,447.67 164,447 C165.27,446.33 166.67,446.53 168,446.6 C169.33,446.67 170.87,446.47 172,447.4 C173.13,448.33 174.4,450.07 174.8,452.2 C175.2,454.33 175.13,457.67 174.4,460.2 C173.67,462.73 172.8,466.2 170.4,467.4 C168,468.6 161.67,470.2 160,467.4 C158.33,464.6 159.73,454 160.4,450.6Z" fill="url(#zebraL)" stroke="#222" stroke-width="0.95"/>
<path d="M162.3,452.2 C162.8,449.65 164.05,450 165,449.5 C165.95,449 167,449.15 168,449.2 C169,449.25 170.15,449.1 171,449.8 C171.85,450.5 172.8,451.8 173.1,453.4 C173.4,455 173.35,457.5 172.8,459.4 C172.25,461.3 171.6,463.9 169.8,464.8 C168,465.7 163.25,466.9 162,464.8 C160.75,462.7 161.8,454.75 162.3,452.2Z" fill="url(#zebraL)" stroke="#222" stroke-width="0.95"/>
<path d="M164.2,453.8 C164.53,452.1 165.37,452.33 166,452 C166.63,451.67 167.33,451.77 168,451.8 C168.67,451.83 169.43,451.73 170,452.2 C170.57,452.67 171.2,453.53 171.4,454.6 C171.6,455.67 171.57,457.33 171.2,458.6 C170.83,459.87 170.4,461.6 169.2,462.2 C168,462.8 164.83,463.6 164,462.2 C163.17,460.8 163.87,455.5 164.2,453.8Z" fill="url(#zebraL)" stroke="#222" stroke-width="0.95"/>
<path d="M166.1,455.4 C166.27,454.55 166.68,454.67 167,454.5 C167.32,454.33 167.67,454.38 168,454.4 C168.33,454.42 168.72,454.37 169,454.6 C169.28,454.83 169.6,455.27 169.7,455.8 C169.8,456.33 169.78,457.17 169.6,457.8 C169.42,458.43 169.2,459.3 168.6,459.6 C168,459.9 166.42,460.3 166,459.6 C165.58,458.9 165.93,456.25 166.1,455.4Z" fill="url(#zebraL)" stroke="#222" stroke-width="0.95"/>
<circle cx="168" cy="457" r="1.2" fill="#000"/>
<path d="M166.5,412.5 C169,412 172,413 175.5,417 C176,420 175.5,423 175,424 C173,421 171,418.5 168,416.5 Z" fill="#000"/><path d="M180,443 C183,443.5 186,442.5 188.6,443 C187,446 185,449 182.5,453 C181,449 180.5,446 180,443Z" fill="#000"/><path d="M159,449 C160,441 163,436 167.5,436 C172,436 174,441 176.5,450" fill="none" stroke="#eee" stroke-width="2.2"/><path d="M159,449 C160,441 163,436 167.5,436 C172,436 174,441 176.5,450" fill="none" stroke="#222" stroke-width="0.8"/>
</g>
<text x="45.5" y="62" font-size="12" font-weight="bold" textLength="34" lengthAdjust="spacingAndGlyphs" stroke="#111" stroke-width="0.35">9.43%</text>
<text x="133.6" y="62" font-size="12" font-weight="bold" text-anchor="end" textLength="34" lengthAdjust="spacingAndGlyphs" stroke="#111" stroke-width="0.35">1.18%</text>
<text x="137.9" y="131.9" font-size="12" font-weight="bold" text-anchor="end" textLength="34" lengthAdjust="spacingAndGlyphs" stroke="#111" stroke-width="0.35">1.65%</text>
<text x="160.1" y="61.4" font-size="12" font-weight="bold" textLength="34" lengthAdjust="spacingAndGlyphs" stroke="#111" stroke-width="0.35">23.1%</text>
<text x="246.3" y="61.4" font-size="12" font-weight="bold" text-anchor="end" textLength="34" lengthAdjust="spacingAndGlyphs" stroke="#111" stroke-width="0.35">0.02%</text>
<text x="246" y="132.3" font-size="12" font-weight="bold" text-anchor="end" textLength="34" lengthAdjust="spacingAndGlyphs" stroke="#111" stroke-width="0.35">0.05%</text>
<text x="45.7" y="173.2" font-size="12" font-weight="bold" textLength="34" lengthAdjust="spacingAndGlyphs" stroke="#111" stroke-width="0.35">26.2%</text>
<text x="134.1" y="173.2" font-size="12" font-weight="bold" text-anchor="end" textLength="34" lengthAdjust="spacingAndGlyphs" stroke="#111" stroke-width="0.35">0.65%</text>
<text x="134.1" y="245.8" font-size="12" font-weight="bold" text-anchor="end" textLength="34" lengthAdjust="spacingAndGlyphs" stroke="#111" stroke-width="0.35">0.00%</text>
<text x="160.1" y="173.3" font-size="12" font-weight="bold" textLength="34" lengthAdjust="spacingAndGlyphs" stroke="#111" stroke-width="0.35">37.6%</text>
<text x="246.3" y="173.3" font-size="12" font-weight="bold" text-anchor="end" textLength="34" lengthAdjust="spacingAndGlyphs" stroke="#111" stroke-width="0.35">0.04%</text>
<text x="246.3" y="245.2" font-size="12" font-weight="bold" text-anchor="end" textLength="34" lengthAdjust="spacingAndGlyphs" stroke="#111" stroke-width="0.35">0.04%</text>
<text x="46.1" y="279.9" font-size="12" font-weight="bold" textLength="34" lengthAdjust="spacingAndGlyphs" stroke="#111" stroke-width="0.35">17.6%</text>
<text x="133.6" y="279.9" font-size="12" font-weight="bold" text-anchor="end" textLength="34" lengthAdjust="spacingAndGlyphs" stroke="#111" stroke-width="0.35">0.80%</text>
<text x="134.1" y="347" font-size="12" font-weight="bold" text-anchor="end" textLength="34" lengthAdjust="spacingAndGlyphs" stroke="#111" stroke-width="0.35">0.54%</text>
<text x="160.1" y="279.8" font-size="12" font-weight="bold" textLength="34" lengthAdjust="spacingAndGlyphs" stroke="#111" stroke-width="0.35">21.6%</text>
<text x="246.3" y="279.8" font-size="12" font-weight="bold" text-anchor="end" textLength="34" lengthAdjust="spacingAndGlyphs" stroke="#111" stroke-width="0.35">0.08%</text>
<text x="246.3" y="346.9" font-size="12" font-weight="bold" text-anchor="end" textLength="34" lengthAdjust="spacingAndGlyphs" stroke="#111" stroke-width="0.35">0.00%</text>
<text x="45.3" y="386.9" font-size="12" font-weight="bold" textLength="34" lengthAdjust="spacingAndGlyphs" stroke="#111" stroke-width="0.35">4.56%</text>
<text x="134.1" y="386.9" font-size="12" font-weight="bold" text-anchor="end" textLength="34" lengthAdjust="spacingAndGlyphs" stroke="#111" stroke-width="0.35">3.77%</text>
<text x="134.1" y="463.6" font-size="12" font-weight="bold" text-anchor="end" textLength="34" lengthAdjust="spacingAndGlyphs" stroke="#111" stroke-width="0.35">0.39%</text>
<text x="160.3" y="386.9" font-size="12" font-weight="bold" textLength="34" lengthAdjust="spacingAndGlyphs" stroke="#111" stroke-width="0.35">15.4%</text>
<text x="246.4" y="386.9" font-size="12" font-weight="bold" text-anchor="end" textLength="34" lengthAdjust="spacingAndGlyphs" stroke="#111" stroke-width="0.35">0.39%</text>
<text x="246.4" y="464" font-size="12" font-weight="bold" text-anchor="end" textLength="34" lengthAdjust="spacingAndGlyphs" stroke="#111" stroke-width="0.35">0.80%</text>
<text x="15.3" y="101.4" font-size="14.3" text-anchor="middle" transform="rotate(-90 15.3 101.4)" font-weight="bold" textLength="47.7" lengthAdjust="spacingAndGlyphs" fill="#111" stroke="#111" stroke-width="0.35">Spleen</text>
<text x="15.3" y="196.7" font-size="14.3" text-anchor="middle" transform="rotate(-90 15.3 196.7)" font-weight="bold" textLength="35" lengthAdjust="spacingAndGlyphs" fill="#111" stroke="#111" stroke-width="0.35">Liver</text>
<text x="36.8" y="256.5" font-size="14.3" text-anchor="middle" transform="rotate(-90 36.8 256.5)" font-weight="bold" textLength="36" lengthAdjust="spacingAndGlyphs" fill="#111" stroke="#111" stroke-width="0.35">IFN-&#947;</text>
<text x="15.3" y="314.3" font-size="14.3" text-anchor="middle" transform="rotate(-90 15.3 314.3)" font-weight="bold" textLength="35" lengthAdjust="spacingAndGlyphs" fill="#111" stroke="#111" stroke-width="0.35">Lung</text>
<text x="15.8" y="415.4" font-size="14.3" text-anchor="middle" transform="rotate(-90 15.8 415.4)" font-weight="bold" textLength="22" lengthAdjust="spacingAndGlyphs" fill="#111" stroke="#111" stroke-width="0.35">IEL</text>
<line x1="32.8" y1="61.9" x2="32.8" y2="220.2" stroke="#555" stroke-width="1.7"/>
<path d="M32.8,54.1 L37,63.9 L32.8,61.9 L28.6,63.9 Z" fill="#111" stroke="#111" stroke-width="0.4" stroke-linejoin="round"/>
<line x1="32.8" y1="293.5" x2="32.8" y2="460.3" stroke="#555" stroke-width="1.7"/>
<text x="60" y="485.7" font-size="14.3" font-weight="bold" textLength="45" lengthAdjust="spacingAndGlyphs" stroke="#111" stroke-width="0.35">IL-17A</text>
<line x1="118.7" y1="481" x2="267.5" y2="481" stroke="#222" stroke-width="1.3"/>
<path d="M275.5,481 L265.5,476.5 L267.5,481 L265.5,485.5 Z" fill="#111" stroke="#111" stroke-width="0.4" stroke-linejoin="round"/>
<line x1="309.8" y1="62.4" x2="309.8" y2="134.9" stroke="#666" stroke-width="1.1"/>
<line x1="308.3" y1="134.9" x2="411.9" y2="134.9" stroke="#666" stroke-width="1.3"/>
<line x1="308.3" y1="134.9" x2="309.8" y2="134.9" stroke="#666" stroke-width="0.8"/>
<text x="304" y="137.4" font-size="7" font-weight="bold" text-anchor="end" fill="#222" stroke="#222" stroke-width="0.35">0</text>
<line x1="308.3" y1="110.73" x2="309.8" y2="110.73" stroke="#666" stroke-width="0.8"/>
<text x="304" y="113.23" font-size="7" font-weight="bold" text-anchor="end" fill="#222" stroke="#222" stroke-width="0.35">10</text>
<line x1="308.3" y1="86.57" x2="309.8" y2="86.57" stroke="#666" stroke-width="0.8"/>
<text x="304" y="89.07" font-size="7" font-weight="bold" text-anchor="end" fill="#222" stroke="#222" stroke-width="0.35">20</text>
<line x1="308.3" y1="62.4" x2="309.8" y2="62.4" stroke="#666" stroke-width="0.8"/>
<text x="304" y="64.9" font-size="7" font-weight="bold" text-anchor="end" fill="#222" stroke="#222" stroke-width="0.35">30</text>
<line x1="361" y1="134.9" x2="361" y2="136.9" stroke="#666" stroke-width="0.8"/>
<line x1="335.6" y1="108.3" x2="335.6" y2="104.7" stroke="#777" stroke-width="1"/>
<line x1="327.3" y1="104.7" x2="343.9" y2="104.7" stroke="#777" stroke-width="1"/>
<rect x="318.5" y="108.3" width="34.2" height="26.6" fill="#000"/>
<line x1="386.45" y1="76" x2="386.45" y2="71.9" stroke="#777" stroke-width="1"/>
<line x1="377.9" y1="71.9" x2="395.3" y2="71.9" stroke="#777" stroke-width="1"/>
<rect x="369.9" y="76.6" width="33.1" height="58.3" fill="#fff" stroke="#333" stroke-width="1.2"/>
<line x1="334.8" y1="63.8" x2="386.2" y2="63.8" stroke="#999" stroke-width="1.3"/>
<circle cx="358.6" cy="60.6" r="1.35" fill="#222"/><circle cx="362.4" cy="60.6" r="1.35" fill="#222"/>
<text x="293" y="98.7" font-size="7.5" text-anchor="middle" transform="rotate(-90 293 98.7)" font-weight="bold" fill="#333" stroke="#333" stroke-width="0.35">%</text>
<text x="361" y="147.3" font-size="7.5" font-weight="bold" text-anchor="middle" fill="#222" stroke="#222" stroke-width="0.35">Th1</text>
<line x1="311.3" y1="168.5" x2="311.3" y2="235.3" stroke="#666" stroke-width="1.1"/>
<line x1="309" y1="235.3" x2="409.4" y2="235.3" stroke="#666" stroke-width="1.3"/>
<line x1="309.8" y1="235.3" x2="311.3" y2="235.3" stroke="#666" stroke-width="0.8"/>
<text x="305.5" y="237.8" font-size="7" font-weight="bold" text-anchor="end" fill="#222" stroke="#222" stroke-width="0.35">0</text>
<line x1="309.8" y1="218.6" x2="311.3" y2="218.6" stroke="#666" stroke-width="0.8"/>
<text x="305.5" y="221.1" font-size="7" font-weight="bold" text-anchor="end" fill="#222" stroke="#222" stroke-width="0.35">10</text>
<line x1="309.8" y1="201.9" x2="311.3" y2="201.9" stroke="#666" stroke-width="0.8"/>
<text x="305.5" y="204.4" font-size="7" font-weight="bold" text-anchor="end" fill="#222" stroke="#222" stroke-width="0.35">20</text>
<line x1="309.8" y1="185.2" x2="311.3" y2="185.2" stroke="#666" stroke-width="0.8"/>
<text x="305.5" y="187.7" font-size="7" font-weight="bold" text-anchor="end" fill="#222" stroke="#222" stroke-width="0.35">30</text>
<line x1="309.8" y1="168.5" x2="311.3" y2="168.5" stroke="#666" stroke-width="0.8"/>
<text x="305.5" y="171" font-size="7" font-weight="bold" text-anchor="end" fill="#222" stroke="#222" stroke-width="0.35">40</text>
<line x1="360.5" y1="235.3" x2="360.5" y2="237.3" stroke="#666" stroke-width="0.8"/>
<line x1="335.6" y1="192.7" x2="335.6" y2="189.7" stroke="#777" stroke-width="1"/>
<line x1="327.3" y1="189.7" x2="343.1" y2="189.7" stroke="#777" stroke-width="1"/>
<rect x="319" y="192.7" width="33.2" height="42.6" fill="#000"/>
<line x1="384.95" y1="178.1" x2="384.95" y2="173.9" stroke="#777" stroke-width="1"/>
<line x1="377" y1="173.9" x2="392.8" y2="173.9" stroke="#777" stroke-width="1"/>
<rect x="369.4" y="178.7" width="31.1" height="56.6" fill="#fff" stroke="#333" stroke-width="1.2"/>
<line x1="334.6" y1="167.2" x2="384.7" y2="167.2" stroke="#888" stroke-width="1.3"/>
<circle cx="358.45" cy="163.7" r="1.2" fill="#333"/>
<text x="293" y="200" font-size="7.5" text-anchor="middle" transform="rotate(-90 293 200)" font-weight="bold" fill="#333" stroke="#333" stroke-width="0.35">%</text>
<text x="360.5" y="246.5" font-size="7.5" font-weight="bold" text-anchor="middle" fill="#222" stroke="#222" stroke-width="0.35">Th1</text>
<line x1="311.1" y1="274" x2="311.1" y2="338.2" stroke="#666" stroke-width="1.1"/>
<line x1="309" y1="338.2" x2="409.4" y2="338.2" stroke="#666" stroke-width="1.3"/>
<line x1="309.6" y1="338.2" x2="311.1" y2="338.2" stroke="#666" stroke-width="0.8"/>
<text x="305.3" y="340.7" font-size="7" font-weight="bold" text-anchor="end" fill="#222" stroke="#222" stroke-width="0.35">0</text>
<line x1="309.6" y1="316.8" x2="311.1" y2="316.8" stroke="#666" stroke-width="0.8"/>
<text x="305.3" y="319.3" font-size="7" font-weight="bold" text-anchor="end" fill="#222" stroke="#222" stroke-width="0.35">10</text>
<line x1="309.6" y1="295.4" x2="311.1" y2="295.4" stroke="#666" stroke-width="0.8"/>
<text x="305.3" y="297.9" font-size="7" font-weight="bold" text-anchor="end" fill="#222" stroke="#222" stroke-width="0.35">20</text>
<line x1="309.6" y1="274" x2="311.1" y2="274" stroke="#666" stroke-width="0.8"/>
<text x="305.3" y="276.5" font-size="7" font-weight="bold" text-anchor="end" fill="#222" stroke="#222" stroke-width="0.35">30</text>
<line x1="360.5" y1="338.2" x2="360.5" y2="340.2" stroke="#666" stroke-width="0.8"/>
<rect x="319.3" y="298.4" width="32.9" height="39.8" fill="#000"/>
<line x1="384.95" y1="294.4" x2="384.95" y2="286.8" stroke="#777" stroke-width="1"/>
<line x1="377" y1="286.8" x2="392.5" y2="286.8" stroke="#777" stroke-width="1"/>
<rect x="369.4" y="295" width="31.1" height="43.2" fill="#fff" stroke="#333" stroke-width="1.2"/>
<text x="293" y="304" font-size="7.5" text-anchor="middle" transform="rotate(-90 293 304)" font-weight="bold" fill="#333" stroke="#333" stroke-width="0.35">%</text>
<text x="360.5" y="347.5" font-size="7.5" font-weight="bold" text-anchor="middle" fill="#222" stroke="#222" stroke-width="0.35">Th1</text>
<line x1="310.6" y1="392.6" x2="310.6" y2="459.9" stroke="#666" stroke-width="1.1"/>
<line x1="308.6" y1="459.9" x2="409.2" y2="459.9" stroke="#666" stroke-width="1.3"/>
<line x1="309.1" y1="459.9" x2="310.6" y2="459.9" stroke="#666" stroke-width="0.8"/>
<text x="304.8" y="462.4" font-size="7" font-weight="bold" text-anchor="end" fill="#222" stroke="#222" stroke-width="0.35">0</text>
<line x1="309.1" y1="443.07" x2="310.6" y2="443.07" stroke="#666" stroke-width="0.8"/>
<text x="304.8" y="445.57" font-size="7" font-weight="bold" text-anchor="end" fill="#222" stroke="#222" stroke-width="0.35">5</text>
<line x1="309.1" y1="426.25" x2="310.6" y2="426.25" stroke="#666" stroke-width="0.8"/>
<text x="304.8" y="428.75" font-size="7" font-weight="bold" text-anchor="end" fill="#222" stroke="#222" stroke-width="0.35">10</text>
<line x1="309.1" y1="409.43" x2="310.6" y2="409.43" stroke="#666" stroke-width="0.8"/>
<text x="304.8" y="411.93" font-size="7" font-weight="bold" text-anchor="end" fill="#222" stroke="#222" stroke-width="0.35">15</text>
<line x1="309.1" y1="392.6" x2="310.6" y2="392.6" stroke="#666" stroke-width="0.8"/>
<text x="304.8" y="395.1" font-size="7" font-weight="bold" text-anchor="end" fill="#222" stroke="#222" stroke-width="0.35">20</text>
<line x1="360.25" y1="459.9" x2="360.25" y2="461.9" stroke="#666" stroke-width="0.8"/>
<line x1="335.6" y1="436.5" x2="335.6" y2="432.8" stroke="#777" stroke-width="1"/>
<line x1="333.2" y1="432.8" x2="343.8" y2="432.8" stroke="#777" stroke-width="1"/>
<rect x="319.3" y="436.5" width="32.6" height="23.4" fill="#000"/>
<line x1="385.05" y1="412.5" x2="385.05" y2="405.1" stroke="#777" stroke-width="1"/>
<line x1="378.6" y1="405.1" x2="392.6" y2="405.1" stroke="#777" stroke-width="1"/>
<rect x="369.2" y="413.1" width="31.7" height="46.8" fill="#fff" stroke="#333" stroke-width="1.2"/>
<line x1="335.1" y1="398" x2="384.8" y2="398" stroke="#aaa" stroke-width="1.3"/>
<circle cx="358.75" cy="394.5" r="1.2" fill="#333"/>
<text x="293" y="427" font-size="7.5" text-anchor="middle" transform="rotate(-90 293 427)" font-weight="bold" fill="#333" stroke="#333" stroke-width="0.35">%</text>
<text x="360.25" y="472" font-size="7.5" font-weight="bold" text-anchor="middle" fill="#222" stroke="#222" stroke-width="0.35">Th1</text>
<rect x="312.5" y="6.6" width="13.4" height="8.6" fill="#000"/>
<text x="332.3" y="14.6" font-size="11" fill="#222" textLength="63.5" lengthAdjust="spacingAndGlyphs" stroke="#222" stroke-width="0.2">WT donor cells</text>
<rect x="313.05" y="29.95" width="12.2" height="11.1" fill="#fff" stroke="#222" stroke-width="1.3"/>
<text x="332.3" y="40.6" font-size="11" fill="#222"><tspan textLength="22.4" lengthAdjust="spacingAndGlyphs">IL-17</tspan><tspan font-size="6" dy="-4.5">-/-</tspan><tspan dy="4.5" x="364.6" textLength="45.1" lengthAdjust="spacingAndGlyphs">donor cells</tspan></text>
<text x="436.2" y="16.3" font-size="20.5" font-weight="bold" stroke="#111" stroke-width="0.35">b</text>
<line x1="480.2" y1="14.4" x2="480.2" y2="159.4" stroke="#111" stroke-width="1.4"/>
<line x1="479.5" y1="159.4" x2="690.2" y2="159.4" stroke="#111" stroke-width="1.4"/>
<line x1="476.6" y1="159.4" x2="480.2" y2="159.4" stroke="#111" stroke-width="1.2"/>
<text x="470.4" y="163" font-size="10.5" font-weight="bold" text-anchor="end" stroke="#111" stroke-width="0.35">0</text>
<line x1="476.6" y1="130.4" x2="480.2" y2="130.4" stroke="#111" stroke-width="1.2"/>
<text x="470.4" y="134" font-size="10.5" font-weight="bold" text-anchor="end" stroke="#111" stroke-width="0.35">2</text>
<line x1="476.6" y1="101.4" x2="480.2" y2="101.4" stroke="#111" stroke-width="1.2"/>
<text x="470.4" y="105" font-size="10.5" font-weight="bold" text-anchor="end" stroke="#111" stroke-width="0.35">4</text>
<line x1="476.6" y1="72.4" x2="480.2" y2="72.4" stroke="#111" stroke-width="1.2"/>
<text x="470.4" y="76" font-size="10.5" font-weight="bold" text-anchor="end" stroke="#111" stroke-width="0.35">6</text>
<line x1="476.6" y1="43.4" x2="480.2" y2="43.4" stroke="#111" stroke-width="1.2"/>
<text x="470.4" y="47" font-size="10.5" font-weight="bold" text-anchor="end" stroke="#111" stroke-width="0.35">8</text>
<line x1="476.6" y1="14.4" x2="480.2" y2="14.4" stroke="#111" stroke-width="1.2"/>
<text x="470.4" y="18" font-size="10.5" font-weight="bold" text-anchor="end" stroke="#111" stroke-width="0.35">10</text>
<line x1="506.7" y1="159.4" x2="506.7" y2="162.4" stroke="#111" stroke-width="1.2"/>
<line x1="558.4" y1="159.4" x2="558.4" y2="162.4" stroke="#111" stroke-width="1.2"/>
<line x1="610.8" y1="159.4" x2="610.8" y2="162.4" stroke="#111" stroke-width="1.2"/>
<line x1="663" y1="159.4" x2="663" y2="162.4" stroke="#111" stroke-width="1.2"/>
<line x1="496.75" y1="150.7" x2="496.75" y2="148.09" stroke="#333" stroke-width="1"/>
<line x1="493.55" y1="148.09" x2="499.95" y2="148.09" stroke="#333" stroke-width="1"/>
<rect x="490" y="150.7" width="13.5" height="8.7" fill="#000"/>
<line x1="516.3" y1="133.44" x2="516.3" y2="130.4" stroke="#333" stroke-width="1"/>
<line x1="513.1" y1="130.4" x2="519.5" y2="130.4" stroke="#333" stroke-width="1"/>
<rect x="510.5" y="134.14" width="11.6" height="25.26" fill="#fff" stroke="#111" stroke-width="1.4"/>
<line x1="548.85" y1="115.18" x2="548.85" y2="107.2" stroke="#333" stroke-width="1"/>
<line x1="545.65" y1="107.2" x2="552.05" y2="107.2" stroke="#333" stroke-width="1"/>
<rect x="541.9" y="115.18" width="13.9" height="44.22" fill="#000"/>
<line x1="568.4" y1="65.15" x2="568.4" y2="44.85" stroke="#333" stroke-width="1"/>
<line x1="565.2" y1="44.85" x2="571.6" y2="44.85" stroke="#333" stroke-width="1"/>
<rect x="562.3" y="65.85" width="12.2" height="93.55" fill="#fff" stroke="#111" stroke-width="1.4"/>
<line x1="601.4" y1="119.53" x2="601.4" y2="109.38" stroke="#333" stroke-width="1"/>
<line x1="598.2" y1="109.38" x2="604.6" y2="109.38" stroke="#333" stroke-width="1"/>
<rect x="594.5" y="119.53" width="13.8" height="39.88" fill="#000"/>
<line x1="620.5" y1="113" x2="620.5" y2="104.3" stroke="#333" stroke-width="1"/>
<line x1="617.3" y1="104.3" x2="623.7" y2="104.3" stroke="#333" stroke-width="1"/>
<rect x="614.3" y="113.7" width="12.4" height="45.7" fill="#fff" stroke="#111" stroke-width="1.4"/>
<line x1="653" y1="135.19" x2="653" y2="130.84" stroke="#333" stroke-width="1"/>
<line x1="649.8" y1="130.84" x2="656.2" y2="130.84" stroke="#333" stroke-width="1"/>
<rect x="646.2" y="135.19" width="13.6" height="24.22" fill="#000"/>
<line x1="672.45" y1="128.95" x2="672.45" y2="119.09" stroke="#333" stroke-width="1"/>
<line x1="669.25" y1="119.09" x2="675.65" y2="119.09" stroke="#333" stroke-width="1"/>
<rect x="666" y="129.65" width="12.9" height="29.75" fill="#fff" stroke="#111" stroke-width="1.4"/>
<line x1="496.7" y1="124.6" x2="515" y2="124.6" stroke="#666" stroke-width="1.3"/>
<text x="505.8" y="125.5" font-size="15" font-weight="bold" text-anchor="middle" stroke="#111" stroke-width="0.35">*</text>
<line x1="553.3" y1="41.4" x2="570.4" y2="41.4" stroke="#666" stroke-width="1.3"/>
<text x="561.8" y="42.3" font-size="15" font-weight="bold" text-anchor="middle" stroke="#111" stroke-width="0.35">*</text>
<text x="490" y="177" font-size="11.5" font-weight="bold" textLength="37.4" lengthAdjust="spacingAndGlyphs" stroke="#111" stroke-width="0.35">Spleen</text>
<text x="545.6" y="177" font-size="11.5" font-weight="bold" textLength="27.4" lengthAdjust="spacingAndGlyphs" stroke="#111" stroke-width="0.35">Liver</text>
<text x="597.2" y="177.4" font-size="11.5" font-weight="bold" textLength="27.7" lengthAdjust="spacingAndGlyphs" stroke="#111" stroke-width="0.35">Lung</text>
<text x="654" y="177.4" font-size="11.5" font-weight="bold" textLength="17" lengthAdjust="spacingAndGlyphs" stroke="#111" stroke-width="0.35">IEL</text>
<text x="453.2" y="85.8" font-size="12.2" font-weight="bold" text-anchor="middle" transform="rotate(-90 453.2 85.8)" fill="#111" stroke="#111" stroke-width="0.3" textLength="118" lengthAdjust="spacingAndGlyphs">% of CD4<tspan font-size="7.5" dy="-4.5">+</tspan><tspan dy="4.5">Tbet</tspan><tspan font-size="7.5" dy="-4.5">+</tspan><tspan dy="4.5"> cells</tspan></text>
<text x="436.5" y="207.4" font-size="21" font-weight="bold" stroke="#111" stroke-width="0.35">c</text>
<text x="484.3" y="205.7" font-size="12.2" font-weight="bold" textLength="87.6" lengthAdjust="spacingAndGlyphs" stroke="#111" stroke-width="0.35">WT donor cells</text>
<text x="620" y="206.3" font-size="12.2" font-weight="bold" fill="#111" stroke="#111" stroke-width="0.35"><tspan textLength="26.3" lengthAdjust="spacingAndGlyphs">IL-17</tspan><tspan font-size="7" dy="-4.2" font-weight="normal" fill="#555" stroke-width="0">-/-</tspan><tspan dy="4.2" x="656.5" textLength="65.5" lengthAdjust="spacingAndGlyphs">donor cells</tspan></text>
<line x1="503.5" y1="216.1" x2="503.5" y2="328.3" stroke="#7a7a7a" stroke-width="1.1"/>
<line x1="479.1" y1="299.9" x2="578.5" y2="299.9" stroke="#7a7a7a" stroke-width="1.1"/>
<rect x="479.1" y="216.1" width="99.4" height="112.2" fill="none" stroke="#6a6a6a" stroke-width="1.1"/>
<path d="M479.1,324.39h-2M482.57,328.3v2M479.1,316.53h-1.1M489.53,328.3v1.1M479.1,311.94h-1.1M493.6,328.3v1.1M479.1,308.68h-1.1M496.48,328.3v1.1M479.1,306.15h-1.1M498.73,328.3v1.1M479.1,304.08h-1.1M500.56,328.3v1.1M479.1,302.33h-1.1M502.1,328.3v1.1M479.1,300.82h-1.1M503.44,328.3v1.1M479.1,299.49h-1.1M504.63,328.3v1.1M479.1,298.29h-2M505.68,328.3v2M479.1,290.44h-1.1M512.64,328.3v1.1M479.1,285.84h-1.1M516.71,328.3v1.1M479.1,282.58h-1.1M519.6,328.3v1.1M479.1,280.05h-1.1M521.84,328.3v1.1M479.1,277.99h-1.1M523.67,328.3v1.1M479.1,276.24h-1.1M525.22,328.3v1.1M479.1,274.73h-1.1M526.56,328.3v1.1M479.1,273.39h-1.1M527.74,328.3v1.1M479.1,272.2h-2M528.8,328.3v2M479.1,264.35h-1.1M535.76,328.3v1.1M479.1,259.75h-1.1M539.83,328.3v1.1M479.1,256.49h-1.1M542.72,328.3v1.1M479.1,253.96h-1.1M544.96,328.3v1.1M479.1,251.9h-1.1M546.79,328.3v1.1M479.1,250.15h-1.1M548.34,328.3v1.1M479.1,248.64h-1.1M549.68,328.3v1.1M479.1,247.3h-1.1M550.86,328.3v1.1M479.1,246.11h-2M551.92,328.3v2M479.1,238.25h-1.1M558.87,328.3v1.1M479.1,233.66h-1.1M562.95,328.3v1.1M479.1,230.4h-1.1M565.83,328.3v1.1M479.1,227.87h-1.1M568.07,328.3v1.1M479.1,225.8h-1.1M569.9,328.3v1.1M479.1,224.06h-1.1M571.45,328.3v1.1M479.1,222.54h-1.1M572.79,328.3v1.1M479.1,221.21h-1.1M573.97,328.3v1.1M479.1,220.01h-2M575.03,328.3v2" stroke="#666" stroke-width="0.6" fill="none"/>
<line x1="642.3" y1="216.5" x2="642.3" y2="328.1" stroke="#7a7a7a" stroke-width="1.1"/>
<line x1="617.9" y1="299.9" x2="716.8" y2="299.9" stroke="#7a7a7a" stroke-width="1.1"/>
<rect x="617.9" y="216.5" width="98.9" height="111.6" fill="none" stroke="#6a6a6a" stroke-width="1.1"/>
<path d="M617.9,324.21h-2M621.35,328.1v2M617.9,316.39h-1.1M628.27,328.1v1.1M617.9,311.82h-1.1M632.32,328.1v1.1M617.9,308.58h-1.1M635.2,328.1v1.1M617.9,306.07h-1.1M637.43,328.1v1.1M617.9,304.01h-1.1M639.25,328.1v1.1M617.9,302.27h-1.1M640.79,328.1v1.1M617.9,300.77h-1.1M642.12,328.1v1.1M617.9,299.44h-1.1M643.3,328.1v1.1M617.9,298.25h-2M644.35,328.1v2M617.9,290.44h-1.1M651.27,328.1v1.1M617.9,285.87h-1.1M655.32,328.1v1.1M617.9,282.63h-1.1M658.2,328.1v1.1M617.9,280.11h-1.1M660.43,328.1v1.1M617.9,278.06h-1.1M662.25,328.1v1.1M617.9,276.32h-1.1M663.79,328.1v1.1M617.9,274.82h-1.1M665.12,328.1v1.1M617.9,273.49h-1.1M666.3,328.1v1.1M617.9,272.3h-2M667.35,328.1v2M617.9,264.49h-1.1M674.27,328.1v1.1M617.9,259.92h-1.1M678.32,328.1v1.1M617.9,256.67h-1.1M681.2,328.1v1.1M617.9,254.16h-1.1M683.43,328.1v1.1M617.9,252.1h-1.1M685.25,328.1v1.1M617.9,250.37h-1.1M686.79,328.1v1.1M617.9,248.86h-1.1M688.12,328.1v1.1M617.9,247.53h-1.1M689.3,328.1v1.1M617.9,246.35h-2M690.35,328.1v2M617.9,238.53h-1.1M697.27,328.1v1.1M617.9,233.96h-1.1M701.32,328.1v1.1M617.9,230.72h-1.1M704.2,328.1v1.1M617.9,228.21h-1.1M706.43,328.1v1.1M617.9,226.15h-1.1M708.25,328.1v1.1M617.9,224.41h-1.1M709.79,328.1v1.1M617.9,222.91h-1.1M711.12,328.1v1.1M617.9,221.58h-1.1M712.3,328.1v1.1M617.9,220.39h-2M713.35,328.1v2" stroke="#666" stroke-width="0.6" fill="none"/>
<g clip-path="url(#cc0)"><circle cx="522.86" cy="288.58" r="0.36" fill="rgb(206,206,206)"/><circle cx="518.5" cy="289.83" r="0.58" fill="rgb(187,187,187)"/><circle cx="506.41" cy="290.41" r="0.38" fill="rgb(190,190,190)"/><circle cx="538.1" cy="294.91" r="0.37" fill="rgb(193,193,193)"/><circle cx="534.41" cy="292.06" r="0.5" fill="rgb(194,194,194)"/><circle cx="533.07" cy="285.25" r="0.59" fill="rgb(181,181,181)"/><circle cx="526.47" cy="282.66" r="0.65" fill="rgb(219,219,219)"/><circle cx="509.58" cy="288.79" r="0.37" fill="rgb(194,194,194)"/><circle cx="500.16" cy="282.68" r="0.54" fill="rgb(189,189,189)"/><circle cx="530.88" cy="284.8" r="0.54" fill="rgb(212,212,212)"/><circle cx="517.44" cy="281.3" r="0.46" fill="rgb(207,207,207)"/><circle cx="520.08" cy="296.84" r="0.43" fill="rgb(196,196,196)"/><circle cx="501.27" cy="286.02" r="0.58" fill="rgb(208,208,208)"/><circle cx="521.34" cy="297.1" r="0.48" fill="rgb(179,179,179)"/><circle cx="537.82" cy="298.26" r="0.39" fill="rgb(179,179,179)"/><circle cx="531.02" cy="281.93" r="0.69" fill="rgb(180,180,180)"/><circle cx="507.64" cy="286.97" r="0.51" fill="rgb(196,196,196)"/><circle cx="527.23" cy="282.87" r="0.41" fill="rgb(203,203,203)"/></g>
<g clip-path="url(#cc1)"><circle cx="653.57" cy="275.19" r="0.51" fill="rgb(219,219,219)"/><circle cx="655.24" cy="276.43" r="0.63" fill="rgb(181,181,181)"/><circle cx="654.27" cy="277.63" r="0.38" fill="rgb(181,181,181)"/><circle cx="649.1" cy="254.08" r="0.66" fill="rgb(221,221,221)"/><circle cx="659.03" cy="276.79" r="0.69" fill="rgb(195,195,195)"/><circle cx="659.62" cy="277.7" r="0.57" fill="rgb(180,180,180)"/><circle cx="664.95" cy="252.84" r="0.42" fill="rgb(172,172,172)"/><circle cx="647.26" cy="251.35" r="0.46" fill="rgb(199,199,199)"/><circle cx="657.73" cy="258.79" r="0.57" fill="rgb(184,184,184)"/><circle cx="654.99" cy="279.81" r="0.58" fill="rgb(199,199,199)"/><circle cx="652.2" cy="274.81" r="0.38" fill="rgb(223,223,223)"/><circle cx="647.62" cy="284.11" r="0.45" fill="rgb(202,202,202)"/><circle cx="642.11" cy="284.48" r="0.39" fill="rgb(195,195,195)"/><circle cx="648.73" cy="253.01" r="0.65" fill="rgb(171,171,171)"/></g>
<g clip-path="url(#cc0)">
<path d="M502.3,330 C498.63,326.67 502.35,314.97 502.5,310 C502.65,305.03 502.6,302.67 503.2,300.2 C503.8,297.73 504.73,296.27 506.1,295.2 C507.47,294.13 509.75,293.8 511.4,293.8 C513.05,293.8 514.55,294.67 516,295.2 C517.45,295.73 518.73,295.97 520.1,297 C521.47,298.03 523.23,299.22 524.2,301.4 C525.17,303.58 525.7,307 525.9,310.1 C526.1,313.2 525.63,316.68 525.4,320 C525.17,323.32 528.35,328.33 524.5,330 C520.65,331.67 505.97,333.33 502.3,330Z" fill="url(#bg7)" stroke="#000" stroke-width="1.6"/>
<path d="M505.5,329 C502.75,325 504.75,310.08 505.5,305 C506.25,299.92 508.25,299.58 510,298.5 C511.75,297.42 514.17,297.92 516,298.5 C517.83,299.08 519.83,299.75 521,302 C522.17,304.25 522.83,307.5 523,312 C523.17,316.5 524.92,326.17 522,329 C519.08,331.83 508.25,333 505.5,329Z" fill="url(#zebraL)" stroke="#222" stroke-width="1.1"/>
<path d="M508.27,323.96 C506.29,321.08 507.73,310.34 508.27,306.68 C508.81,303.02 510.25,302.78 511.51,302 C512.77,301.22 514.51,301.58 515.83,302 C517.15,302.42 518.59,302.9 519.43,304.52 C520.27,306.14 520.75,308.48 520.87,311.72 C520.99,314.96 522.25,321.92 520.15,323.96 C518.05,326 510.25,326.84 508.27,323.96Z" fill="url(#zebraL)" stroke="#222" stroke-width="0.95"/>
<path d="M510.65,319.64 C509.33,317.72 510.29,310.56 510.65,308.12 C511.01,305.68 511.97,305.52 512.81,305 C513.65,304.48 514.81,304.72 515.69,305 C516.57,305.28 517.53,305.6 518.09,306.68 C518.65,307.76 518.97,309.32 519.05,311.48 C519.13,313.64 519.97,318.28 518.57,319.64 C517.17,321 511.97,321.56 510.65,319.64Z" fill="url(#zebraL)" stroke="#222" stroke-width="0.95"/>
<path d="M512.92,315.5 C512.24,314.5 512.74,310.77 512.92,309.5 C513.11,308.23 513.61,308.15 514.05,307.88 C514.49,307.6 515.09,307.73 515.55,307.88 C516.01,308.02 516.51,308.19 516.8,308.75 C517.09,309.31 517.26,310.12 517.3,311.25 C517.34,312.38 517.78,314.79 517.05,315.5 C516.32,316.21 513.61,316.5 512.92,315.5Z" fill="url(#zebraL)" stroke="#222" stroke-width="0.95"/>
<ellipse cx="515.4" cy="311" rx="1.6" ry="2.6" transform="rotate(20 515.4 311)" fill="#000"/>
</g>
<g clip-path="url(#cc1)">
<path d="M641.2,330 C637.73,327.5 641.15,319.5 641.2,315 C641.25,310.5 641.37,305.55 641.5,303 C641.63,300.45 641.35,301.45 642,299.7 C642.65,297.95 644.07,294.08 645.4,292.5 C646.73,290.92 648.65,290.12 650,290.2 C651.35,290.28 652.55,291.98 653.5,293 C654.45,294.02 654.82,295.83 655.7,296.3 C656.58,296.77 657.7,295.32 658.8,295.8 C659.9,296.28 661.55,297.17 662.3,299.2 C663.05,301.23 663.22,304.45 663.3,308 C663.38,311.55 663.02,316.83 662.8,320.5 C662.58,324.17 665.6,328.42 662,330 C658.4,331.58 644.67,332.5 641.2,330Z" fill="url(#bg8)" stroke="#000" stroke-width="1.2"/>
<path d="M643.5,329 C640.83,325 642.75,309.83 643.5,305 C644.25,300.17 646.08,300.75 648,300 C649.92,299.25 653,299.83 655,300.5 C657,301.17 659,301.42 660,304 C661,306.58 661.08,311.83 661,316 C660.92,320.17 662.42,326.83 659.5,329 C656.58,331.17 646.17,333 643.5,329Z" fill="url(#zebraL)" stroke="#333" stroke-width="1.1"/>
<path d="M645.74,324.52 C643.82,321.64 645.2,310.72 645.74,307.24 C646.28,303.76 647.6,304.18 648.98,303.64 C650.36,303.1 652.58,303.52 654.02,304 C655.46,304.48 656.9,304.66 657.62,306.52 C658.34,308.38 658.4,312.16 658.34,315.16 C658.28,318.16 659.36,322.96 657.26,324.52 C655.16,326.08 647.66,327.4 645.74,324.52Z" fill="url(#zebraL)" stroke="#333" stroke-width="0.95"/>
<path d="M647.66,320.68 C646.38,318.76 647.3,311.48 647.66,309.16 C648.02,306.84 648.9,307.12 649.82,306.76 C650.74,306.4 652.22,306.68 653.18,307 C654.14,307.32 655.1,307.44 655.58,308.68 C656.06,309.92 656.1,312.44 656.06,314.44 C656.02,316.44 656.74,319.64 655.34,320.68 C653.94,321.72 648.94,322.6 647.66,320.68Z" fill="url(#zebraL)" stroke="#333" stroke-width="0.95"/>
<circle cx="648.5" cy="310" r="1.3" fill="#111"/><circle cx="654" cy="306.5" r="1.1" fill="#111"/><circle cx="652" cy="316" r="1.1" fill="#111"/>
</g>
<circle cx="642.8" cy="256.3" r="1.9" fill="#000"/><circle cx="645.4" cy="266.6" r="1.7" fill="#000"/><circle cx="647.4" cy="284.7" r="1.4" fill="#000"/>
<text x="570.9" y="234.3" font-size="12" font-weight="bold" text-anchor="end" textLength="34.2" lengthAdjust="spacingAndGlyphs" stroke="#111" stroke-width="0.35">3.67%</text>
<text x="713" y="234.4" font-size="12" font-weight="bold" text-anchor="end" textLength="34.2" lengthAdjust="spacingAndGlyphs" stroke="#111" stroke-width="0.35">7.52%</text>
<text x="447.2" y="272.3" font-size="14.3" text-anchor="middle" transform="rotate(-90 447.2 272.3)" font-weight="bold" textLength="20.3" lengthAdjust="spacingAndGlyphs" fill="#111" stroke="#111" stroke-width="0.35">IEL</text>
<text x="470.2" y="301" font-size="14.3" text-anchor="middle" transform="rotate(-90 470.2 301)" font-weight="bold" textLength="34.1" lengthAdjust="spacingAndGlyphs" fill="#111" stroke="#111" stroke-width="0.35">IFN-&#947;</text>
<line x1="465.2" y1="228.7" x2="465.2" y2="273.5" stroke="#111" stroke-width="1.3"/>
<path d="M465.2,220.7 L469.4,230.7 L465.2,228.7 L461,230.7 Z" fill="#111" stroke="#111" stroke-width="0.4" stroke-linejoin="round"/>
<text x="495.2" y="345.2" font-size="14.5" font-weight="bold" textLength="29.2" lengthAdjust="spacingAndGlyphs" stroke="#111" stroke-width="0.35">CD8</text>
<line x1="542.7" y1="342.4" x2="703.6" y2="342.4" stroke="#111" stroke-width="1.3"/>
<path d="M711.6,342.4 L701.6,338.2 L703.6,342.4 L701.6,346.6 Z" fill="#111" stroke="#111" stroke-width="0.4" stroke-linejoin="round"/>
<line x1="493.5" y1="368.68" x2="493.5" y2="486.2" stroke="#222" stroke-width="1.4"/>
<line x1="489.4" y1="486.2" x2="666.1" y2="486.2" stroke="#222" stroke-width="1.4"/>
<line x1="489.4" y1="486.2" x2="493.5" y2="486.2" stroke="#222" stroke-width="1.3"/>
<text x="483.6" y="490.7" font-size="12.5" font-weight="bold" text-anchor="end" stroke="#111" stroke-width="0.35">0</text>
<line x1="489.4" y1="456.82" x2="493.5" y2="456.82" stroke="#222" stroke-width="1.3"/>
<text x="483.6" y="461.32" font-size="12.5" font-weight="bold" text-anchor="end" stroke="#111" stroke-width="0.35">2</text>
<line x1="489.4" y1="427.44" x2="493.5" y2="427.44" stroke="#222" stroke-width="1.3"/>
<text x="483.6" y="431.94" font-size="12.5" font-weight="bold" text-anchor="end" stroke="#111" stroke-width="0.35">4</text>
<line x1="489.4" y1="398.06" x2="493.5" y2="398.06" stroke="#222" stroke-width="1.3"/>
<text x="483.6" y="402.56" font-size="12.5" font-weight="bold" text-anchor="end" stroke="#111" stroke-width="0.35">6</text>
<line x1="489.4" y1="368.68" x2="493.5" y2="368.68" stroke="#222" stroke-width="1.3"/>
<text x="483.6" y="373.18" font-size="12.5" font-weight="bold" text-anchor="end" stroke="#111" stroke-width="0.35">8</text>
<line x1="579.6" y1="486.2" x2="579.6" y2="489.2" stroke="#222" stroke-width="1.3"/>
<line x1="536.15" y1="432.58" x2="536.15" y2="427.5" stroke="#333" stroke-width="1"/>
<line x1="522" y1="427.5" x2="550.4" y2="427.5" stroke="#333" stroke-width="1"/>
<rect x="507.2" y="432.58" width="57.9" height="53.62" fill="#000"/>
<line x1="622.5" y1="396.2" x2="622.5" y2="381.9" stroke="#333" stroke-width="1"/>
<line x1="608.1" y1="381.9" x2="636.7" y2="381.9" stroke="#333" stroke-width="1"/>
<rect x="594.5" y="396.9" width="56" height="89.3" fill="#fff" stroke="#222" stroke-width="1.4"/>
<line x1="534.7" y1="373.2" x2="622.2" y2="373.2" stroke="#333" stroke-width="1.2"/>
<text x="574.8" y="372.3" font-size="11" font-weight="bold" text-anchor="middle" stroke="#111" stroke-width="0.35">*</text>
<text x="468.5" y="428" font-size="14" text-anchor="middle" transform="rotate(-90 468.5 428)" font-weight="bold" textLength="12.7" lengthAdjust="spacingAndGlyphs" fill="#111" stroke="#111" stroke-width="0.35">%</text>
<text x="569" y="504" font-size="12.5" font-weight="bold" textLength="20.2" lengthAdjust="spacingAndGlyphs" stroke="#111" stroke-width="0.35">Tc1</text>
<text x="164.6" y="542.7" font-size="20.5" font-weight="bold" stroke="#111" stroke-width="0.35">d</text>
<line x1="218" y1="542.65" x2="218" y2="725.3" stroke="#111" stroke-width="1.6"/>
<line x1="213.6" y1="725.3" x2="487.3" y2="725.3" stroke="#111" stroke-width="1.6"/>
<line x1="213.2" y1="725.3" x2="218" y2="725.3" stroke="#111" stroke-width="1.3"/>
<text x="207.6" y="729.4" font-size="11" font-weight="bold" text-anchor="end" textLength="6.1" lengthAdjust="spacingAndGlyphs" stroke="#111" stroke-width="0.35">0</text>
<line x1="213.2" y1="688.77" x2="218" y2="688.77" stroke="#111" stroke-width="1.3"/>
<text x="207.6" y="692.87" font-size="11" font-weight="bold" text-anchor="end" textLength="12.2" lengthAdjust="spacingAndGlyphs" stroke="#111" stroke-width="0.35">50</text>
<line x1="213.2" y1="652.24" x2="218" y2="652.24" stroke="#111" stroke-width="1.3"/>
<text x="207.6" y="656.34" font-size="11" font-weight="bold" text-anchor="end" textLength="18.3" lengthAdjust="spacingAndGlyphs" stroke="#111" stroke-width="0.35">100</text>
<line x1="213.2" y1="615.71" x2="218" y2="615.71" stroke="#111" stroke-width="1.3"/>
<text x="207.6" y="619.81" font-size="11" font-weight="bold" text-anchor="end" textLength="18.3" lengthAdjust="spacingAndGlyphs" stroke="#111" stroke-width="0.35">150</text>
<line x1="213.2" y1="579.18" x2="218" y2="579.18" stroke="#111" stroke-width="1.3"/>
<text x="207.6" y="583.28" font-size="11" font-weight="bold" text-anchor="end" textLength="18.3" lengthAdjust="spacingAndGlyphs" stroke="#111" stroke-width="0.35">200</text>
<line x1="213.2" y1="542.65" x2="218" y2="542.65" stroke="#111" stroke-width="1.3"/>
<text x="207.6" y="546.75" font-size="11" font-weight="bold" text-anchor="end" textLength="18.3" lengthAdjust="spacingAndGlyphs" stroke="#111" stroke-width="0.35">250</text>
<line x1="240.4" y1="725.3" x2="240.4" y2="730.3" stroke="#111" stroke-width="1.4"/>
<line x1="284.9" y1="725.3" x2="284.9" y2="730.3" stroke="#111" stroke-width="1.4"/>
<line x1="330.1" y1="725.3" x2="330.1" y2="730.3" stroke="#111" stroke-width="1.4"/>
<line x1="374.8" y1="725.3" x2="374.8" y2="730.3" stroke="#111" stroke-width="1.4"/>
<line x1="419.3" y1="725.3" x2="419.3" y2="730.3" stroke="#111" stroke-width="1.4"/>
<line x1="464.3" y1="725.3" x2="464.3" y2="730.3" stroke="#111" stroke-width="1.4"/>
<line x1="232.45" y1="701.8" x2="232.45" y2="696.8" stroke="#444" stroke-width="1"/>
<line x1="229.45" y1="696.8" x2="235.45" y2="696.8" stroke="#444" stroke-width="1"/>
<rect x="226.6" y="701.8" width="11.7" height="23.5" fill="#000"/>
<line x1="248.8" y1="694.8" x2="248.8" y2="688.5" stroke="#444" stroke-width="1"/>
<line x1="245.8" y1="688.5" x2="251.8" y2="688.5" stroke="#444" stroke-width="1"/>
<rect x="243.3" y="695.5" width="11" height="29.8" fill="#fff" stroke="#111" stroke-width="1.4"/>
<rect x="271.2" y="723.6" width="11.8" height="1.7" fill="#000"/>
<rect x="288.5" y="724.1" width="10" height="1.2" fill="#fff" stroke="#111" stroke-width="1.4"/>
<line x1="321.6" y1="660.7" x2="321.6" y2="650.7" stroke="#444" stroke-width="1"/>
<line x1="318.6" y1="650.7" x2="324.6" y2="650.7" stroke="#444" stroke-width="1"/>
<rect x="315.6" y="660.7" width="12" height="64.6" fill="#000"/>
<line x1="338.55" y1="656.2" x2="338.55" y2="647.8" stroke="#444" stroke-width="1"/>
<line x1="335.55" y1="647.8" x2="341.55" y2="647.8" stroke="#444" stroke-width="1"/>
<rect x="333.2" y="656.9" width="10.7" height="68.4" fill="#fff" stroke="#111" stroke-width="1.4"/>
<line x1="366.35" y1="702.6" x2="366.35" y2="698.7" stroke="#444" stroke-width="1"/>
<line x1="363.35" y1="698.7" x2="369.35" y2="698.7" stroke="#444" stroke-width="1"/>
<rect x="360.3" y="702.6" width="12.1" height="22.7" fill="#000"/>
<line x1="383.3" y1="686.2" x2="383.3" y2="679.1" stroke="#444" stroke-width="1"/>
<line x1="380.3" y1="679.1" x2="386.3" y2="679.1" stroke="#444" stroke-width="1"/>
<rect x="378" y="686.9" width="10.6" height="38.4" fill="#fff" stroke="#111" stroke-width="1.4"/>
<line x1="411.5" y1="617.9" x2="411.5" y2="579" stroke="#444" stroke-width="1"/>
<line x1="408.5" y1="579" x2="414.5" y2="579" stroke="#444" stroke-width="1"/>
<rect x="405.5" y="617.9" width="12" height="107.4" fill="#000"/>
<line x1="428" y1="599" x2="428" y2="561.6" stroke="#444" stroke-width="1"/>
<line x1="425" y1="561.6" x2="431" y2="561.6" stroke="#444" stroke-width="1"/>
<rect x="422.7" y="599.7" width="10.6" height="125.6" fill="#fff" stroke="#111" stroke-width="1.4"/>
<rect x="449.5" y="722.2" width="12" height="3.1" fill="#000"/>
<rect x="467.7" y="722.9" width="10.6" height="2.4" fill="#fff" stroke="#111" stroke-width="1.4"/>
<line x1="363.2" y1="673.5" x2="385.7" y2="673.5" stroke="#555" stroke-width="1.4"/>
<text x="373.6" y="673" font-size="17" font-weight="bold" text-anchor="middle" stroke="#111" stroke-width="0.35">*</text>
<text x="243.3" y="743" font-size="13" font-weight="bold" text-anchor="end" transform="rotate(-45 243.3 743)" fill="#111" stroke="#111" stroke-width="0.35">IL-2</text>
<text x="287.8" y="743" font-size="13" font-weight="bold" text-anchor="end" transform="rotate(-45 287.8 743)" fill="#111" stroke="#111" stroke-width="0.35">IL-4</text>
<text x="333" y="743" font-size="13" font-weight="bold" text-anchor="end" transform="rotate(-45 333 743)" fill="#111" stroke="#111" stroke-width="0.35">IL-6</text>
<text x="377.7" y="743" font-size="13" font-weight="bold" text-anchor="end" transform="rotate(-45 377.7 743)" fill="#111" stroke="#111" stroke-width="0.35">IFN-<tspan font-weight="normal" font-family="Liberation Serif">&#947;</tspan></text>
<text x="422.2" y="743" font-size="13" font-weight="bold" text-anchor="end" transform="rotate(-45 422.2 743)" fill="#111" stroke="#111" stroke-width="0.35">TNF-<tspan font-weight="normal" font-family="Liberation Serif">&#945;</tspan></text>
<text x="467.2" y="743" font-size="13" font-weight="bold" text-anchor="end" transform="rotate(-45 467.2 743)" fill="#111" stroke="#111" stroke-width="0.35">IL-10</text>
<text x="177" y="633.5" font-size="14" text-anchor="middle" transform="rotate(-90 177 633.5)" font-weight="bold" textLength="37.5" lengthAdjust="spacingAndGlyphs" fill="#111" stroke="#111" stroke-width="0.35">pg/ml</text>
<rect x="450.6" y="556.2" width="15.1" height="7.8" fill="#000"/>
<text x="473.3" y="563.4" font-size="11" fill="#222" textLength="72.7" lengthAdjust="spacingAndGlyphs" stroke="#222" stroke-width="0.2">WT donor cells</text>
<rect x="451.3" y="580.1" width="13.8" height="9.8" fill="#fff" stroke="#222" stroke-width="1.3"/>
<text x="473.3" y="589.1" font-size="11" fill="#222"><tspan textLength="26" lengthAdjust="spacingAndGlyphs">IL-17</tspan><tspan font-size="6.5" dy="-4.5">-/-</tspan><tspan dy="4.5" x="507.5" textLength="54" lengthAdjust="spacingAndGlyphs">donor cells</tspan></text>
</svg>
</body></html>
